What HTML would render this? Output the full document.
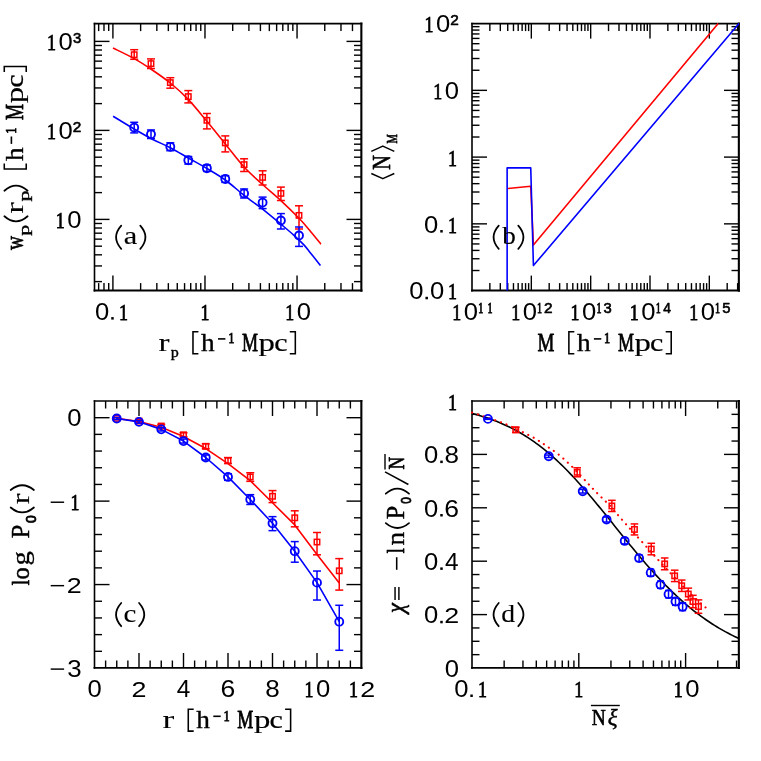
<!DOCTYPE html>
<html><head><meta charset="utf-8"><title>Figure</title>
<style>
html,body{margin:0;padding:0;background:#fff;}
body{width:761px;height:761px;overflow:hidden;font-family:"Liberation Sans",sans-serif;}
svg{display:block;will-change:transform;}
</style></head>
<body>
<svg width="761" height="761" viewBox="0 0 761 761">
<rect x="0" y="0" width="761" height="761" fill="#fff"/>
<line x1="98.65" y1="290.60" x2="98.65" y2="283.10" stroke="#000" stroke-width="1.4" stroke-linecap="butt"/>
<line x1="98.65" y1="23.60" x2="98.65" y2="31.10" stroke="#000" stroke-width="1.4" stroke-linecap="butt"/>
<line x1="103.99" y1="290.60" x2="103.99" y2="283.10" stroke="#000" stroke-width="1.4" stroke-linecap="butt"/>
<line x1="103.99" y1="23.60" x2="103.99" y2="31.10" stroke="#000" stroke-width="1.4" stroke-linecap="butt"/>
<line x1="108.70" y1="290.60" x2="108.70" y2="283.10" stroke="#000" stroke-width="1.4" stroke-linecap="butt"/>
<line x1="108.70" y1="23.60" x2="108.70" y2="31.10" stroke="#000" stroke-width="1.4" stroke-linecap="butt"/>
<line x1="112.91" y1="290.60" x2="112.91" y2="275.60" stroke="#000" stroke-width="1.4" stroke-linecap="butt"/>
<line x1="112.91" y1="23.60" x2="112.91" y2="38.60" stroke="#000" stroke-width="1.4" stroke-linecap="butt"/>
<line x1="140.63" y1="290.60" x2="140.63" y2="283.10" stroke="#000" stroke-width="1.4" stroke-linecap="butt"/>
<line x1="140.63" y1="23.60" x2="140.63" y2="31.10" stroke="#000" stroke-width="1.4" stroke-linecap="butt"/>
<line x1="156.84" y1="290.60" x2="156.84" y2="283.10" stroke="#000" stroke-width="1.4" stroke-linecap="butt"/>
<line x1="156.84" y1="23.60" x2="156.84" y2="31.10" stroke="#000" stroke-width="1.4" stroke-linecap="butt"/>
<line x1="168.34" y1="290.60" x2="168.34" y2="283.10" stroke="#000" stroke-width="1.4" stroke-linecap="butt"/>
<line x1="168.34" y1="23.60" x2="168.34" y2="31.10" stroke="#000" stroke-width="1.4" stroke-linecap="butt"/>
<line x1="177.27" y1="290.60" x2="177.27" y2="283.10" stroke="#000" stroke-width="1.4" stroke-linecap="butt"/>
<line x1="177.27" y1="23.60" x2="177.27" y2="31.10" stroke="#000" stroke-width="1.4" stroke-linecap="butt"/>
<line x1="184.56" y1="290.60" x2="184.56" y2="283.10" stroke="#000" stroke-width="1.4" stroke-linecap="butt"/>
<line x1="184.56" y1="23.60" x2="184.56" y2="31.10" stroke="#000" stroke-width="1.4" stroke-linecap="butt"/>
<line x1="190.72" y1="290.60" x2="190.72" y2="283.10" stroke="#000" stroke-width="1.4" stroke-linecap="butt"/>
<line x1="190.72" y1="23.60" x2="190.72" y2="31.10" stroke="#000" stroke-width="1.4" stroke-linecap="butt"/>
<line x1="196.06" y1="290.60" x2="196.06" y2="283.10" stroke="#000" stroke-width="1.4" stroke-linecap="butt"/>
<line x1="196.06" y1="23.60" x2="196.06" y2="31.10" stroke="#000" stroke-width="1.4" stroke-linecap="butt"/>
<line x1="200.77" y1="290.60" x2="200.77" y2="283.10" stroke="#000" stroke-width="1.4" stroke-linecap="butt"/>
<line x1="200.77" y1="23.60" x2="200.77" y2="31.10" stroke="#000" stroke-width="1.4" stroke-linecap="butt"/>
<line x1="204.98" y1="290.60" x2="204.98" y2="275.60" stroke="#000" stroke-width="1.4" stroke-linecap="butt"/>
<line x1="204.98" y1="23.60" x2="204.98" y2="38.60" stroke="#000" stroke-width="1.4" stroke-linecap="butt"/>
<line x1="232.70" y1="290.60" x2="232.70" y2="283.10" stroke="#000" stroke-width="1.4" stroke-linecap="butt"/>
<line x1="232.70" y1="23.60" x2="232.70" y2="31.10" stroke="#000" stroke-width="1.4" stroke-linecap="butt"/>
<line x1="248.91" y1="290.60" x2="248.91" y2="283.10" stroke="#000" stroke-width="1.4" stroke-linecap="butt"/>
<line x1="248.91" y1="23.60" x2="248.91" y2="31.10" stroke="#000" stroke-width="1.4" stroke-linecap="butt"/>
<line x1="260.41" y1="290.60" x2="260.41" y2="283.10" stroke="#000" stroke-width="1.4" stroke-linecap="butt"/>
<line x1="260.41" y1="23.60" x2="260.41" y2="31.10" stroke="#000" stroke-width="1.4" stroke-linecap="butt"/>
<line x1="269.34" y1="290.60" x2="269.34" y2="283.10" stroke="#000" stroke-width="1.4" stroke-linecap="butt"/>
<line x1="269.34" y1="23.60" x2="269.34" y2="31.10" stroke="#000" stroke-width="1.4" stroke-linecap="butt"/>
<line x1="276.63" y1="290.60" x2="276.63" y2="283.10" stroke="#000" stroke-width="1.4" stroke-linecap="butt"/>
<line x1="276.63" y1="23.60" x2="276.63" y2="31.10" stroke="#000" stroke-width="1.4" stroke-linecap="butt"/>
<line x1="282.79" y1="290.60" x2="282.79" y2="283.10" stroke="#000" stroke-width="1.4" stroke-linecap="butt"/>
<line x1="282.79" y1="23.60" x2="282.79" y2="31.10" stroke="#000" stroke-width="1.4" stroke-linecap="butt"/>
<line x1="288.13" y1="290.60" x2="288.13" y2="283.10" stroke="#000" stroke-width="1.4" stroke-linecap="butt"/>
<line x1="288.13" y1="23.60" x2="288.13" y2="31.10" stroke="#000" stroke-width="1.4" stroke-linecap="butt"/>
<line x1="292.84" y1="290.60" x2="292.84" y2="283.10" stroke="#000" stroke-width="1.4" stroke-linecap="butt"/>
<line x1="292.84" y1="23.60" x2="292.84" y2="31.10" stroke="#000" stroke-width="1.4" stroke-linecap="butt"/>
<line x1="297.05" y1="290.60" x2="297.05" y2="275.60" stroke="#000" stroke-width="1.4" stroke-linecap="butt"/>
<line x1="297.05" y1="23.60" x2="297.05" y2="38.60" stroke="#000" stroke-width="1.4" stroke-linecap="butt"/>
<line x1="324.77" y1="290.60" x2="324.77" y2="283.10" stroke="#000" stroke-width="1.4" stroke-linecap="butt"/>
<line x1="324.77" y1="23.60" x2="324.77" y2="31.10" stroke="#000" stroke-width="1.4" stroke-linecap="butt"/>
<line x1="340.98" y1="290.60" x2="340.98" y2="283.10" stroke="#000" stroke-width="1.4" stroke-linecap="butt"/>
<line x1="340.98" y1="23.60" x2="340.98" y2="31.10" stroke="#000" stroke-width="1.4" stroke-linecap="butt"/>
<line x1="352.48" y1="290.60" x2="352.48" y2="283.10" stroke="#000" stroke-width="1.4" stroke-linecap="butt"/>
<line x1="352.48" y1="23.60" x2="352.48" y2="31.10" stroke="#000" stroke-width="1.4" stroke-linecap="butt"/>
<line x1="94.50" y1="281.61" x2="102.00" y2="281.61" stroke="#000" stroke-width="1.4" stroke-linecap="butt"/>
<line x1="361.50" y1="281.61" x2="354.00" y2="281.61" stroke="#000" stroke-width="1.4" stroke-linecap="butt"/>
<line x1="94.50" y1="265.94" x2="102.00" y2="265.94" stroke="#000" stroke-width="1.4" stroke-linecap="butt"/>
<line x1="361.50" y1="265.94" x2="354.00" y2="265.94" stroke="#000" stroke-width="1.4" stroke-linecap="butt"/>
<line x1="94.50" y1="254.82" x2="102.00" y2="254.82" stroke="#000" stroke-width="1.4" stroke-linecap="butt"/>
<line x1="361.50" y1="254.82" x2="354.00" y2="254.82" stroke="#000" stroke-width="1.4" stroke-linecap="butt"/>
<line x1="94.50" y1="246.19" x2="102.00" y2="246.19" stroke="#000" stroke-width="1.4" stroke-linecap="butt"/>
<line x1="361.50" y1="246.19" x2="354.00" y2="246.19" stroke="#000" stroke-width="1.4" stroke-linecap="butt"/>
<line x1="94.50" y1="239.14" x2="102.00" y2="239.14" stroke="#000" stroke-width="1.4" stroke-linecap="butt"/>
<line x1="361.50" y1="239.14" x2="354.00" y2="239.14" stroke="#000" stroke-width="1.4" stroke-linecap="butt"/>
<line x1="94.50" y1="233.19" x2="102.00" y2="233.19" stroke="#000" stroke-width="1.4" stroke-linecap="butt"/>
<line x1="361.50" y1="233.19" x2="354.00" y2="233.19" stroke="#000" stroke-width="1.4" stroke-linecap="butt"/>
<line x1="94.50" y1="228.02" x2="102.00" y2="228.02" stroke="#000" stroke-width="1.4" stroke-linecap="butt"/>
<line x1="361.50" y1="228.02" x2="354.00" y2="228.02" stroke="#000" stroke-width="1.4" stroke-linecap="butt"/>
<line x1="94.50" y1="223.47" x2="102.00" y2="223.47" stroke="#000" stroke-width="1.4" stroke-linecap="butt"/>
<line x1="361.50" y1="223.47" x2="354.00" y2="223.47" stroke="#000" stroke-width="1.4" stroke-linecap="butt"/>
<line x1="94.50" y1="219.40" x2="109.50" y2="219.40" stroke="#000" stroke-width="1.4" stroke-linecap="butt"/>
<line x1="361.50" y1="219.40" x2="346.50" y2="219.40" stroke="#000" stroke-width="1.4" stroke-linecap="butt"/>
<line x1="94.50" y1="192.61" x2="102.00" y2="192.61" stroke="#000" stroke-width="1.4" stroke-linecap="butt"/>
<line x1="361.50" y1="192.61" x2="354.00" y2="192.61" stroke="#000" stroke-width="1.4" stroke-linecap="butt"/>
<line x1="94.50" y1="176.94" x2="102.00" y2="176.94" stroke="#000" stroke-width="1.4" stroke-linecap="butt"/>
<line x1="361.50" y1="176.94" x2="354.00" y2="176.94" stroke="#000" stroke-width="1.4" stroke-linecap="butt"/>
<line x1="94.50" y1="165.82" x2="102.00" y2="165.82" stroke="#000" stroke-width="1.4" stroke-linecap="butt"/>
<line x1="361.50" y1="165.82" x2="354.00" y2="165.82" stroke="#000" stroke-width="1.4" stroke-linecap="butt"/>
<line x1="94.50" y1="157.19" x2="102.00" y2="157.19" stroke="#000" stroke-width="1.4" stroke-linecap="butt"/>
<line x1="361.50" y1="157.19" x2="354.00" y2="157.19" stroke="#000" stroke-width="1.4" stroke-linecap="butt"/>
<line x1="94.50" y1="150.14" x2="102.00" y2="150.14" stroke="#000" stroke-width="1.4" stroke-linecap="butt"/>
<line x1="361.50" y1="150.14" x2="354.00" y2="150.14" stroke="#000" stroke-width="1.4" stroke-linecap="butt"/>
<line x1="94.50" y1="144.19" x2="102.00" y2="144.19" stroke="#000" stroke-width="1.4" stroke-linecap="butt"/>
<line x1="361.50" y1="144.19" x2="354.00" y2="144.19" stroke="#000" stroke-width="1.4" stroke-linecap="butt"/>
<line x1="94.50" y1="139.02" x2="102.00" y2="139.02" stroke="#000" stroke-width="1.4" stroke-linecap="butt"/>
<line x1="361.50" y1="139.02" x2="354.00" y2="139.02" stroke="#000" stroke-width="1.4" stroke-linecap="butt"/>
<line x1="94.50" y1="134.47" x2="102.00" y2="134.47" stroke="#000" stroke-width="1.4" stroke-linecap="butt"/>
<line x1="361.50" y1="134.47" x2="354.00" y2="134.47" stroke="#000" stroke-width="1.4" stroke-linecap="butt"/>
<line x1="94.50" y1="130.40" x2="109.50" y2="130.40" stroke="#000" stroke-width="1.4" stroke-linecap="butt"/>
<line x1="361.50" y1="130.40" x2="346.50" y2="130.40" stroke="#000" stroke-width="1.4" stroke-linecap="butt"/>
<line x1="94.50" y1="103.61" x2="102.00" y2="103.61" stroke="#000" stroke-width="1.4" stroke-linecap="butt"/>
<line x1="361.50" y1="103.61" x2="354.00" y2="103.61" stroke="#000" stroke-width="1.4" stroke-linecap="butt"/>
<line x1="94.50" y1="87.94" x2="102.00" y2="87.94" stroke="#000" stroke-width="1.4" stroke-linecap="butt"/>
<line x1="361.50" y1="87.94" x2="354.00" y2="87.94" stroke="#000" stroke-width="1.4" stroke-linecap="butt"/>
<line x1="94.50" y1="76.82" x2="102.00" y2="76.82" stroke="#000" stroke-width="1.4" stroke-linecap="butt"/>
<line x1="361.50" y1="76.82" x2="354.00" y2="76.82" stroke="#000" stroke-width="1.4" stroke-linecap="butt"/>
<line x1="94.50" y1="68.19" x2="102.00" y2="68.19" stroke="#000" stroke-width="1.4" stroke-linecap="butt"/>
<line x1="361.50" y1="68.19" x2="354.00" y2="68.19" stroke="#000" stroke-width="1.4" stroke-linecap="butt"/>
<line x1="94.50" y1="61.14" x2="102.00" y2="61.14" stroke="#000" stroke-width="1.4" stroke-linecap="butt"/>
<line x1="361.50" y1="61.14" x2="354.00" y2="61.14" stroke="#000" stroke-width="1.4" stroke-linecap="butt"/>
<line x1="94.50" y1="55.19" x2="102.00" y2="55.19" stroke="#000" stroke-width="1.4" stroke-linecap="butt"/>
<line x1="361.50" y1="55.19" x2="354.00" y2="55.19" stroke="#000" stroke-width="1.4" stroke-linecap="butt"/>
<line x1="94.50" y1="50.02" x2="102.00" y2="50.02" stroke="#000" stroke-width="1.4" stroke-linecap="butt"/>
<line x1="361.50" y1="50.02" x2="354.00" y2="50.02" stroke="#000" stroke-width="1.4" stroke-linecap="butt"/>
<line x1="94.50" y1="45.47" x2="102.00" y2="45.47" stroke="#000" stroke-width="1.4" stroke-linecap="butt"/>
<line x1="361.50" y1="45.47" x2="354.00" y2="45.47" stroke="#000" stroke-width="1.4" stroke-linecap="butt"/>
<line x1="94.50" y1="41.40" x2="109.50" y2="41.40" stroke="#000" stroke-width="1.4" stroke-linecap="butt"/>
<line x1="361.50" y1="41.40" x2="346.50" y2="41.40" stroke="#000" stroke-width="1.4" stroke-linecap="butt"/>
<line x1="94.50" y1="23.60" x2="94.50" y2="290.60" stroke="#000" stroke-width="1.6" stroke-linecap="square"/>
<line x1="94.50" y1="23.60" x2="361.50" y2="23.60" stroke="#000" stroke-width="1.6" stroke-linecap="square"/>
<line x1="361.35" y1="23.60" x2="361.35" y2="290.60" stroke="#000" stroke-width="2.1" stroke-linecap="square"/>
<line x1="94.50" y1="290.50" x2="361.50" y2="290.50" stroke="#000" stroke-width="1.85" stroke-linecap="square"/>
<path d="M113.00,48.00 C116.53,49.77 127.92,55.12 134.20,58.60 C140.48,62.08 144.68,64.83 150.70,68.90 C156.72,72.97 164.05,77.92 170.30,83.00 C176.55,88.08 182.10,93.02 188.20,99.40 C194.30,105.78 200.72,113.88 206.90,121.30 C213.08,128.72 219.10,136.28 225.30,143.90 C231.50,151.52 237.88,160.23 244.10,167.00 C250.32,173.77 256.47,178.90 262.60,184.50 C268.73,190.10 274.83,194.97 280.90,200.60 C286.97,206.23 294.25,213.40 299.00,218.30 C303.75,223.20 305.75,225.68 309.40,230.00 C313.05,234.32 318.98,241.83 320.90,244.20" fill="none" stroke="#ff0000" stroke-width="1.6"/>
<path d="M113.10,116.20 C116.62,118.33 127.67,125.17 134.20,129.00 C140.73,132.83 146.28,136.08 152.30,139.20 C158.32,142.32 164.23,144.53 170.30,147.70 C176.37,150.87 182.60,154.73 188.70,158.20 C194.80,161.67 200.80,164.87 206.90,168.50 C213.00,172.13 219.10,175.53 225.30,180.00 C231.50,184.47 237.88,190.45 244.10,195.30 C250.32,200.15 256.47,204.28 262.60,209.10 C268.73,213.92 275.72,219.87 280.90,224.20 C286.08,228.53 289.87,231.65 293.70,235.10 C297.53,238.55 301.28,242.13 303.90,244.90 C306.52,247.67 307.37,249.20 309.40,251.70 C311.43,254.20 314.25,257.58 316.10,259.90 C317.95,262.22 319.77,264.65 320.50,265.60" fill="none" stroke="#0000ff" stroke-width="1.6"/>
<line x1="134.20" y1="49.70" x2="134.20" y2="59.30" stroke="#ff0000" stroke-width="1.5" stroke-linecap="butt"/>
<line x1="130.20" y1="49.70" x2="138.20" y2="49.70" stroke="#ff0000" stroke-width="1.5" stroke-linecap="butt"/>
<line x1="130.20" y1="59.30" x2="138.20" y2="59.30" stroke="#ff0000" stroke-width="1.5" stroke-linecap="butt"/>
<rect x="131.50" y="52.00" width="5.4" height="5.4" fill="none" stroke="#ff0000" stroke-width="1.5"/>
<line x1="134.20" y1="122.30" x2="134.20" y2="132.90" stroke="#0000ff" stroke-width="1.5" stroke-linecap="butt"/>
<line x1="130.20" y1="122.30" x2="138.20" y2="122.30" stroke="#0000ff" stroke-width="1.5" stroke-linecap="butt"/>
<line x1="130.20" y1="132.90" x2="138.20" y2="132.90" stroke="#0000ff" stroke-width="1.5" stroke-linecap="butt"/>
<circle cx="134.20" cy="127.60" r="4.0" fill="none" stroke="#0000ff" stroke-width="1.85"/>
<line x1="151.00" y1="58.90" x2="151.00" y2="68.50" stroke="#ff0000" stroke-width="1.5" stroke-linecap="butt"/>
<line x1="147.00" y1="58.90" x2="155.00" y2="58.90" stroke="#ff0000" stroke-width="1.5" stroke-linecap="butt"/>
<line x1="147.00" y1="68.50" x2="155.00" y2="68.50" stroke="#ff0000" stroke-width="1.5" stroke-linecap="butt"/>
<rect x="148.30" y="60.90" width="5.4" height="5.4" fill="none" stroke="#ff0000" stroke-width="1.5"/>
<line x1="151.00" y1="130.00" x2="151.00" y2="138.50" stroke="#0000ff" stroke-width="1.5" stroke-linecap="butt"/>
<line x1="147.00" y1="130.00" x2="155.00" y2="130.00" stroke="#0000ff" stroke-width="1.5" stroke-linecap="butt"/>
<line x1="147.00" y1="138.50" x2="155.00" y2="138.50" stroke="#0000ff" stroke-width="1.5" stroke-linecap="butt"/>
<circle cx="151.00" cy="134.30" r="4.0" fill="none" stroke="#0000ff" stroke-width="1.85"/>
<line x1="170.30" y1="77.70" x2="170.30" y2="88.20" stroke="#ff0000" stroke-width="1.5" stroke-linecap="butt"/>
<line x1="166.30" y1="77.70" x2="174.30" y2="77.70" stroke="#ff0000" stroke-width="1.5" stroke-linecap="butt"/>
<line x1="166.30" y1="88.20" x2="174.30" y2="88.20" stroke="#ff0000" stroke-width="1.5" stroke-linecap="butt"/>
<rect x="167.60" y="79.90" width="5.4" height="5.4" fill="none" stroke="#ff0000" stroke-width="1.5"/>
<line x1="170.30" y1="142.80" x2="170.30" y2="150.70" stroke="#0000ff" stroke-width="1.5" stroke-linecap="butt"/>
<line x1="166.30" y1="142.80" x2="174.30" y2="142.80" stroke="#0000ff" stroke-width="1.5" stroke-linecap="butt"/>
<line x1="166.30" y1="150.70" x2="174.30" y2="150.70" stroke="#0000ff" stroke-width="1.5" stroke-linecap="butt"/>
<circle cx="170.30" cy="146.80" r="4.0" fill="none" stroke="#0000ff" stroke-width="1.85"/>
<line x1="188.30" y1="90.60" x2="188.30" y2="102.90" stroke="#ff0000" stroke-width="1.5" stroke-linecap="butt"/>
<line x1="184.30" y1="90.60" x2="192.30" y2="90.60" stroke="#ff0000" stroke-width="1.5" stroke-linecap="butt"/>
<line x1="184.30" y1="102.90" x2="192.30" y2="102.90" stroke="#ff0000" stroke-width="1.5" stroke-linecap="butt"/>
<rect x="185.60" y="93.90" width="5.4" height="5.4" fill="none" stroke="#ff0000" stroke-width="1.5"/>
<line x1="188.30" y1="156.50" x2="188.30" y2="164.10" stroke="#0000ff" stroke-width="1.5" stroke-linecap="butt"/>
<line x1="184.30" y1="156.50" x2="192.30" y2="156.50" stroke="#0000ff" stroke-width="1.5" stroke-linecap="butt"/>
<line x1="184.30" y1="164.10" x2="192.30" y2="164.10" stroke="#0000ff" stroke-width="1.5" stroke-linecap="butt"/>
<circle cx="188.30" cy="160.20" r="4.0" fill="none" stroke="#0000ff" stroke-width="1.85"/>
<line x1="206.90" y1="113.50" x2="206.90" y2="128.90" stroke="#ff0000" stroke-width="1.5" stroke-linecap="butt"/>
<line x1="202.90" y1="113.50" x2="210.90" y2="113.50" stroke="#ff0000" stroke-width="1.5" stroke-linecap="butt"/>
<line x1="202.90" y1="128.90" x2="210.90" y2="128.90" stroke="#ff0000" stroke-width="1.5" stroke-linecap="butt"/>
<rect x="204.20" y="117.60" width="5.4" height="5.4" fill="none" stroke="#ff0000" stroke-width="1.5"/>
<line x1="206.90" y1="165.00" x2="206.90" y2="171.40" stroke="#0000ff" stroke-width="1.5" stroke-linecap="butt"/>
<line x1="202.90" y1="165.00" x2="210.90" y2="165.00" stroke="#0000ff" stroke-width="1.5" stroke-linecap="butt"/>
<line x1="202.90" y1="171.40" x2="210.90" y2="171.40" stroke="#0000ff" stroke-width="1.5" stroke-linecap="butt"/>
<circle cx="206.90" cy="168.20" r="4.0" fill="none" stroke="#0000ff" stroke-width="1.85"/>
<line x1="225.30" y1="135.90" x2="225.30" y2="151.90" stroke="#ff0000" stroke-width="1.5" stroke-linecap="butt"/>
<line x1="221.30" y1="135.90" x2="229.30" y2="135.90" stroke="#ff0000" stroke-width="1.5" stroke-linecap="butt"/>
<line x1="221.30" y1="151.90" x2="229.30" y2="151.90" stroke="#ff0000" stroke-width="1.5" stroke-linecap="butt"/>
<rect x="222.60" y="140.20" width="5.4" height="5.4" fill="none" stroke="#ff0000" stroke-width="1.5"/>
<line x1="225.30" y1="175.60" x2="225.30" y2="182.40" stroke="#0000ff" stroke-width="1.5" stroke-linecap="butt"/>
<line x1="221.30" y1="175.60" x2="229.30" y2="175.60" stroke="#0000ff" stroke-width="1.5" stroke-linecap="butt"/>
<line x1="221.30" y1="182.40" x2="229.30" y2="182.40" stroke="#0000ff" stroke-width="1.5" stroke-linecap="butt"/>
<circle cx="225.30" cy="179.00" r="4.0" fill="none" stroke="#0000ff" stroke-width="1.85"/>
<line x1="244.10" y1="158.80" x2="244.10" y2="171.50" stroke="#ff0000" stroke-width="1.5" stroke-linecap="butt"/>
<line x1="240.10" y1="158.80" x2="248.10" y2="158.80" stroke="#ff0000" stroke-width="1.5" stroke-linecap="butt"/>
<line x1="240.10" y1="171.50" x2="248.10" y2="171.50" stroke="#ff0000" stroke-width="1.5" stroke-linecap="butt"/>
<rect x="241.40" y="161.90" width="5.4" height="5.4" fill="none" stroke="#ff0000" stroke-width="1.5"/>
<line x1="244.10" y1="189.00" x2="244.10" y2="198.00" stroke="#0000ff" stroke-width="1.5" stroke-linecap="butt"/>
<line x1="240.10" y1="189.00" x2="248.10" y2="189.00" stroke="#0000ff" stroke-width="1.5" stroke-linecap="butt"/>
<line x1="240.10" y1="198.00" x2="248.10" y2="198.00" stroke="#0000ff" stroke-width="1.5" stroke-linecap="butt"/>
<circle cx="244.10" cy="193.40" r="4.0" fill="none" stroke="#0000ff" stroke-width="1.85"/>
<line x1="262.60" y1="170.80" x2="262.60" y2="185.00" stroke="#ff0000" stroke-width="1.5" stroke-linecap="butt"/>
<line x1="258.60" y1="170.80" x2="266.60" y2="170.80" stroke="#ff0000" stroke-width="1.5" stroke-linecap="butt"/>
<line x1="258.60" y1="185.00" x2="266.60" y2="185.00" stroke="#ff0000" stroke-width="1.5" stroke-linecap="butt"/>
<rect x="259.90" y="174.70" width="5.4" height="5.4" fill="none" stroke="#ff0000" stroke-width="1.5"/>
<line x1="262.60" y1="197.10" x2="262.60" y2="208.60" stroke="#0000ff" stroke-width="1.5" stroke-linecap="butt"/>
<line x1="258.60" y1="197.10" x2="266.60" y2="197.10" stroke="#0000ff" stroke-width="1.5" stroke-linecap="butt"/>
<line x1="258.60" y1="208.60" x2="266.60" y2="208.60" stroke="#0000ff" stroke-width="1.5" stroke-linecap="butt"/>
<circle cx="262.60" cy="202.60" r="4.0" fill="none" stroke="#0000ff" stroke-width="1.85"/>
<line x1="280.90" y1="187.10" x2="280.90" y2="200.50" stroke="#ff0000" stroke-width="1.5" stroke-linecap="butt"/>
<line x1="276.90" y1="187.10" x2="284.90" y2="187.10" stroke="#ff0000" stroke-width="1.5" stroke-linecap="butt"/>
<line x1="276.90" y1="200.50" x2="284.90" y2="200.50" stroke="#ff0000" stroke-width="1.5" stroke-linecap="butt"/>
<rect x="278.20" y="190.70" width="5.4" height="5.4" fill="none" stroke="#ff0000" stroke-width="1.5"/>
<line x1="280.90" y1="213.60" x2="280.90" y2="229.00" stroke="#0000ff" stroke-width="1.5" stroke-linecap="butt"/>
<line x1="276.90" y1="213.60" x2="284.90" y2="213.60" stroke="#0000ff" stroke-width="1.5" stroke-linecap="butt"/>
<line x1="276.90" y1="229.00" x2="284.90" y2="229.00" stroke="#0000ff" stroke-width="1.5" stroke-linecap="butt"/>
<circle cx="280.90" cy="220.50" r="4.0" fill="none" stroke="#0000ff" stroke-width="1.85"/>
<line x1="299.00" y1="205.80" x2="299.00" y2="229.00" stroke="#ff0000" stroke-width="1.5" stroke-linecap="butt"/>
<line x1="295.00" y1="205.80" x2="303.00" y2="205.80" stroke="#ff0000" stroke-width="1.5" stroke-linecap="butt"/>
<line x1="295.00" y1="229.00" x2="303.00" y2="229.00" stroke="#ff0000" stroke-width="1.5" stroke-linecap="butt"/>
<rect x="296.30" y="212.70" width="5.4" height="5.4" fill="none" stroke="#ff0000" stroke-width="1.5"/>
<line x1="299.00" y1="227.00" x2="299.00" y2="246.40" stroke="#0000ff" stroke-width="1.5" stroke-linecap="butt"/>
<line x1="295.00" y1="227.00" x2="303.00" y2="227.00" stroke="#0000ff" stroke-width="1.5" stroke-linecap="butt"/>
<line x1="295.00" y1="246.40" x2="303.00" y2="246.40" stroke="#0000ff" stroke-width="1.5" stroke-linecap="butt"/>
<circle cx="299.00" cy="235.50" r="4.0" fill="none" stroke="#0000ff" stroke-width="1.85"/>
<line x1="489.86" y1="290.60" x2="489.86" y2="283.10" stroke="#000" stroke-width="1.4" stroke-linecap="butt"/>
<line x1="489.86" y1="23.60" x2="489.86" y2="31.10" stroke="#000" stroke-width="1.4" stroke-linecap="butt"/>
<line x1="500.31" y1="290.60" x2="500.31" y2="283.10" stroke="#000" stroke-width="1.4" stroke-linecap="butt"/>
<line x1="500.31" y1="23.60" x2="500.31" y2="31.10" stroke="#000" stroke-width="1.4" stroke-linecap="butt"/>
<line x1="507.72" y1="290.60" x2="507.72" y2="283.10" stroke="#000" stroke-width="1.4" stroke-linecap="butt"/>
<line x1="507.72" y1="23.60" x2="507.72" y2="31.10" stroke="#000" stroke-width="1.4" stroke-linecap="butt"/>
<line x1="513.47" y1="290.60" x2="513.47" y2="283.10" stroke="#000" stroke-width="1.4" stroke-linecap="butt"/>
<line x1="513.47" y1="23.60" x2="513.47" y2="31.10" stroke="#000" stroke-width="1.4" stroke-linecap="butt"/>
<line x1="518.17" y1="290.60" x2="518.17" y2="283.10" stroke="#000" stroke-width="1.4" stroke-linecap="butt"/>
<line x1="518.17" y1="23.60" x2="518.17" y2="31.10" stroke="#000" stroke-width="1.4" stroke-linecap="butt"/>
<line x1="522.14" y1="290.60" x2="522.14" y2="283.10" stroke="#000" stroke-width="1.4" stroke-linecap="butt"/>
<line x1="522.14" y1="23.60" x2="522.14" y2="31.10" stroke="#000" stroke-width="1.4" stroke-linecap="butt"/>
<line x1="525.58" y1="290.60" x2="525.58" y2="283.10" stroke="#000" stroke-width="1.4" stroke-linecap="butt"/>
<line x1="525.58" y1="23.60" x2="525.58" y2="31.10" stroke="#000" stroke-width="1.4" stroke-linecap="butt"/>
<line x1="528.62" y1="290.60" x2="528.62" y2="283.10" stroke="#000" stroke-width="1.4" stroke-linecap="butt"/>
<line x1="528.62" y1="23.60" x2="528.62" y2="31.10" stroke="#000" stroke-width="1.4" stroke-linecap="butt"/>
<line x1="531.33" y1="290.60" x2="531.33" y2="275.60" stroke="#000" stroke-width="1.4" stroke-linecap="butt"/>
<line x1="531.33" y1="23.60" x2="531.33" y2="38.60" stroke="#000" stroke-width="1.4" stroke-linecap="butt"/>
<line x1="549.19" y1="290.60" x2="549.19" y2="283.10" stroke="#000" stroke-width="1.4" stroke-linecap="butt"/>
<line x1="549.19" y1="23.60" x2="549.19" y2="31.10" stroke="#000" stroke-width="1.4" stroke-linecap="butt"/>
<line x1="559.64" y1="290.60" x2="559.64" y2="283.10" stroke="#000" stroke-width="1.4" stroke-linecap="butt"/>
<line x1="559.64" y1="23.60" x2="559.64" y2="31.10" stroke="#000" stroke-width="1.4" stroke-linecap="butt"/>
<line x1="567.06" y1="290.60" x2="567.06" y2="283.10" stroke="#000" stroke-width="1.4" stroke-linecap="butt"/>
<line x1="567.06" y1="23.60" x2="567.06" y2="31.10" stroke="#000" stroke-width="1.4" stroke-linecap="butt"/>
<line x1="572.81" y1="290.60" x2="572.81" y2="283.10" stroke="#000" stroke-width="1.4" stroke-linecap="butt"/>
<line x1="572.81" y1="23.60" x2="572.81" y2="31.10" stroke="#000" stroke-width="1.4" stroke-linecap="butt"/>
<line x1="577.50" y1="290.60" x2="577.50" y2="283.10" stroke="#000" stroke-width="1.4" stroke-linecap="butt"/>
<line x1="577.50" y1="23.60" x2="577.50" y2="31.10" stroke="#000" stroke-width="1.4" stroke-linecap="butt"/>
<line x1="581.48" y1="290.60" x2="581.48" y2="283.10" stroke="#000" stroke-width="1.4" stroke-linecap="butt"/>
<line x1="581.48" y1="23.60" x2="581.48" y2="31.10" stroke="#000" stroke-width="1.4" stroke-linecap="butt"/>
<line x1="584.92" y1="290.60" x2="584.92" y2="283.10" stroke="#000" stroke-width="1.4" stroke-linecap="butt"/>
<line x1="584.92" y1="23.60" x2="584.92" y2="31.10" stroke="#000" stroke-width="1.4" stroke-linecap="butt"/>
<line x1="587.95" y1="290.60" x2="587.95" y2="283.10" stroke="#000" stroke-width="1.4" stroke-linecap="butt"/>
<line x1="587.95" y1="23.60" x2="587.95" y2="31.10" stroke="#000" stroke-width="1.4" stroke-linecap="butt"/>
<line x1="590.67" y1="290.60" x2="590.67" y2="275.60" stroke="#000" stroke-width="1.4" stroke-linecap="butt"/>
<line x1="590.67" y1="23.60" x2="590.67" y2="38.60" stroke="#000" stroke-width="1.4" stroke-linecap="butt"/>
<line x1="608.53" y1="290.60" x2="608.53" y2="283.10" stroke="#000" stroke-width="1.4" stroke-linecap="butt"/>
<line x1="608.53" y1="23.60" x2="608.53" y2="31.10" stroke="#000" stroke-width="1.4" stroke-linecap="butt"/>
<line x1="618.98" y1="290.60" x2="618.98" y2="283.10" stroke="#000" stroke-width="1.4" stroke-linecap="butt"/>
<line x1="618.98" y1="23.60" x2="618.98" y2="31.10" stroke="#000" stroke-width="1.4" stroke-linecap="butt"/>
<line x1="626.39" y1="290.60" x2="626.39" y2="283.10" stroke="#000" stroke-width="1.4" stroke-linecap="butt"/>
<line x1="626.39" y1="23.60" x2="626.39" y2="31.10" stroke="#000" stroke-width="1.4" stroke-linecap="butt"/>
<line x1="632.14" y1="290.60" x2="632.14" y2="283.10" stroke="#000" stroke-width="1.4" stroke-linecap="butt"/>
<line x1="632.14" y1="23.60" x2="632.14" y2="31.10" stroke="#000" stroke-width="1.4" stroke-linecap="butt"/>
<line x1="636.84" y1="290.60" x2="636.84" y2="283.10" stroke="#000" stroke-width="1.4" stroke-linecap="butt"/>
<line x1="636.84" y1="23.60" x2="636.84" y2="31.10" stroke="#000" stroke-width="1.4" stroke-linecap="butt"/>
<line x1="640.81" y1="290.60" x2="640.81" y2="283.10" stroke="#000" stroke-width="1.4" stroke-linecap="butt"/>
<line x1="640.81" y1="23.60" x2="640.81" y2="31.10" stroke="#000" stroke-width="1.4" stroke-linecap="butt"/>
<line x1="644.25" y1="290.60" x2="644.25" y2="283.10" stroke="#000" stroke-width="1.4" stroke-linecap="butt"/>
<line x1="644.25" y1="23.60" x2="644.25" y2="31.10" stroke="#000" stroke-width="1.4" stroke-linecap="butt"/>
<line x1="647.29" y1="290.60" x2="647.29" y2="283.10" stroke="#000" stroke-width="1.4" stroke-linecap="butt"/>
<line x1="647.29" y1="23.60" x2="647.29" y2="31.10" stroke="#000" stroke-width="1.4" stroke-linecap="butt"/>
<line x1="650.00" y1="290.60" x2="650.00" y2="275.60" stroke="#000" stroke-width="1.4" stroke-linecap="butt"/>
<line x1="650.00" y1="23.60" x2="650.00" y2="38.60" stroke="#000" stroke-width="1.4" stroke-linecap="butt"/>
<line x1="667.86" y1="290.60" x2="667.86" y2="283.10" stroke="#000" stroke-width="1.4" stroke-linecap="butt"/>
<line x1="667.86" y1="23.60" x2="667.86" y2="31.10" stroke="#000" stroke-width="1.4" stroke-linecap="butt"/>
<line x1="678.31" y1="290.60" x2="678.31" y2="283.10" stroke="#000" stroke-width="1.4" stroke-linecap="butt"/>
<line x1="678.31" y1="23.60" x2="678.31" y2="31.10" stroke="#000" stroke-width="1.4" stroke-linecap="butt"/>
<line x1="685.72" y1="290.60" x2="685.72" y2="283.10" stroke="#000" stroke-width="1.4" stroke-linecap="butt"/>
<line x1="685.72" y1="23.60" x2="685.72" y2="31.10" stroke="#000" stroke-width="1.4" stroke-linecap="butt"/>
<line x1="691.47" y1="290.60" x2="691.47" y2="283.10" stroke="#000" stroke-width="1.4" stroke-linecap="butt"/>
<line x1="691.47" y1="23.60" x2="691.47" y2="31.10" stroke="#000" stroke-width="1.4" stroke-linecap="butt"/>
<line x1="696.17" y1="290.60" x2="696.17" y2="283.10" stroke="#000" stroke-width="1.4" stroke-linecap="butt"/>
<line x1="696.17" y1="23.60" x2="696.17" y2="31.10" stroke="#000" stroke-width="1.4" stroke-linecap="butt"/>
<line x1="700.14" y1="290.60" x2="700.14" y2="283.10" stroke="#000" stroke-width="1.4" stroke-linecap="butt"/>
<line x1="700.14" y1="23.60" x2="700.14" y2="31.10" stroke="#000" stroke-width="1.4" stroke-linecap="butt"/>
<line x1="703.58" y1="290.60" x2="703.58" y2="283.10" stroke="#000" stroke-width="1.4" stroke-linecap="butt"/>
<line x1="703.58" y1="23.60" x2="703.58" y2="31.10" stroke="#000" stroke-width="1.4" stroke-linecap="butt"/>
<line x1="706.62" y1="290.60" x2="706.62" y2="283.10" stroke="#000" stroke-width="1.4" stroke-linecap="butt"/>
<line x1="706.62" y1="23.60" x2="706.62" y2="31.10" stroke="#000" stroke-width="1.4" stroke-linecap="butt"/>
<line x1="709.33" y1="290.60" x2="709.33" y2="275.60" stroke="#000" stroke-width="1.4" stroke-linecap="butt"/>
<line x1="709.33" y1="23.60" x2="709.33" y2="38.60" stroke="#000" stroke-width="1.4" stroke-linecap="butt"/>
<line x1="727.19" y1="290.60" x2="727.19" y2="283.10" stroke="#000" stroke-width="1.4" stroke-linecap="butt"/>
<line x1="727.19" y1="23.60" x2="727.19" y2="31.10" stroke="#000" stroke-width="1.4" stroke-linecap="butt"/>
<line x1="737.64" y1="290.60" x2="737.64" y2="283.10" stroke="#000" stroke-width="1.4" stroke-linecap="butt"/>
<line x1="737.64" y1="23.60" x2="737.64" y2="31.10" stroke="#000" stroke-width="1.4" stroke-linecap="butt"/>
<line x1="472.00" y1="270.51" x2="479.50" y2="270.51" stroke="#000" stroke-width="1.4" stroke-linecap="butt"/>
<line x1="739.00" y1="270.51" x2="731.50" y2="270.51" stroke="#000" stroke-width="1.4" stroke-linecap="butt"/>
<line x1="472.00" y1="258.75" x2="479.50" y2="258.75" stroke="#000" stroke-width="1.4" stroke-linecap="butt"/>
<line x1="739.00" y1="258.75" x2="731.50" y2="258.75" stroke="#000" stroke-width="1.4" stroke-linecap="butt"/>
<line x1="472.00" y1="250.41" x2="479.50" y2="250.41" stroke="#000" stroke-width="1.4" stroke-linecap="butt"/>
<line x1="739.00" y1="250.41" x2="731.50" y2="250.41" stroke="#000" stroke-width="1.4" stroke-linecap="butt"/>
<line x1="472.00" y1="243.94" x2="479.50" y2="243.94" stroke="#000" stroke-width="1.4" stroke-linecap="butt"/>
<line x1="739.00" y1="243.94" x2="731.50" y2="243.94" stroke="#000" stroke-width="1.4" stroke-linecap="butt"/>
<line x1="472.00" y1="238.66" x2="479.50" y2="238.66" stroke="#000" stroke-width="1.4" stroke-linecap="butt"/>
<line x1="739.00" y1="238.66" x2="731.50" y2="238.66" stroke="#000" stroke-width="1.4" stroke-linecap="butt"/>
<line x1="472.00" y1="234.19" x2="479.50" y2="234.19" stroke="#000" stroke-width="1.4" stroke-linecap="butt"/>
<line x1="739.00" y1="234.19" x2="731.50" y2="234.19" stroke="#000" stroke-width="1.4" stroke-linecap="butt"/>
<line x1="472.00" y1="230.32" x2="479.50" y2="230.32" stroke="#000" stroke-width="1.4" stroke-linecap="butt"/>
<line x1="739.00" y1="230.32" x2="731.50" y2="230.32" stroke="#000" stroke-width="1.4" stroke-linecap="butt"/>
<line x1="472.00" y1="226.90" x2="479.50" y2="226.90" stroke="#000" stroke-width="1.4" stroke-linecap="butt"/>
<line x1="739.00" y1="226.90" x2="731.50" y2="226.90" stroke="#000" stroke-width="1.4" stroke-linecap="butt"/>
<line x1="472.00" y1="223.85" x2="487.00" y2="223.85" stroke="#000" stroke-width="1.4" stroke-linecap="butt"/>
<line x1="739.00" y1="223.85" x2="724.00" y2="223.85" stroke="#000" stroke-width="1.4" stroke-linecap="butt"/>
<line x1="472.00" y1="203.76" x2="479.50" y2="203.76" stroke="#000" stroke-width="1.4" stroke-linecap="butt"/>
<line x1="739.00" y1="203.76" x2="731.50" y2="203.76" stroke="#000" stroke-width="1.4" stroke-linecap="butt"/>
<line x1="472.00" y1="192.00" x2="479.50" y2="192.00" stroke="#000" stroke-width="1.4" stroke-linecap="butt"/>
<line x1="739.00" y1="192.00" x2="731.50" y2="192.00" stroke="#000" stroke-width="1.4" stroke-linecap="butt"/>
<line x1="472.00" y1="183.66" x2="479.50" y2="183.66" stroke="#000" stroke-width="1.4" stroke-linecap="butt"/>
<line x1="739.00" y1="183.66" x2="731.50" y2="183.66" stroke="#000" stroke-width="1.4" stroke-linecap="butt"/>
<line x1="472.00" y1="177.19" x2="479.50" y2="177.19" stroke="#000" stroke-width="1.4" stroke-linecap="butt"/>
<line x1="739.00" y1="177.19" x2="731.50" y2="177.19" stroke="#000" stroke-width="1.4" stroke-linecap="butt"/>
<line x1="472.00" y1="171.91" x2="479.50" y2="171.91" stroke="#000" stroke-width="1.4" stroke-linecap="butt"/>
<line x1="739.00" y1="171.91" x2="731.50" y2="171.91" stroke="#000" stroke-width="1.4" stroke-linecap="butt"/>
<line x1="472.00" y1="167.44" x2="479.50" y2="167.44" stroke="#000" stroke-width="1.4" stroke-linecap="butt"/>
<line x1="739.00" y1="167.44" x2="731.50" y2="167.44" stroke="#000" stroke-width="1.4" stroke-linecap="butt"/>
<line x1="472.00" y1="163.57" x2="479.50" y2="163.57" stroke="#000" stroke-width="1.4" stroke-linecap="butt"/>
<line x1="739.00" y1="163.57" x2="731.50" y2="163.57" stroke="#000" stroke-width="1.4" stroke-linecap="butt"/>
<line x1="472.00" y1="160.15" x2="479.50" y2="160.15" stroke="#000" stroke-width="1.4" stroke-linecap="butt"/>
<line x1="739.00" y1="160.15" x2="731.50" y2="160.15" stroke="#000" stroke-width="1.4" stroke-linecap="butt"/>
<line x1="472.00" y1="157.10" x2="487.00" y2="157.10" stroke="#000" stroke-width="1.4" stroke-linecap="butt"/>
<line x1="739.00" y1="157.10" x2="724.00" y2="157.10" stroke="#000" stroke-width="1.4" stroke-linecap="butt"/>
<line x1="472.00" y1="137.01" x2="479.50" y2="137.01" stroke="#000" stroke-width="1.4" stroke-linecap="butt"/>
<line x1="739.00" y1="137.01" x2="731.50" y2="137.01" stroke="#000" stroke-width="1.4" stroke-linecap="butt"/>
<line x1="472.00" y1="125.25" x2="479.50" y2="125.25" stroke="#000" stroke-width="1.4" stroke-linecap="butt"/>
<line x1="739.00" y1="125.25" x2="731.50" y2="125.25" stroke="#000" stroke-width="1.4" stroke-linecap="butt"/>
<line x1="472.00" y1="116.91" x2="479.50" y2="116.91" stroke="#000" stroke-width="1.4" stroke-linecap="butt"/>
<line x1="739.00" y1="116.91" x2="731.50" y2="116.91" stroke="#000" stroke-width="1.4" stroke-linecap="butt"/>
<line x1="472.00" y1="110.44" x2="479.50" y2="110.44" stroke="#000" stroke-width="1.4" stroke-linecap="butt"/>
<line x1="739.00" y1="110.44" x2="731.50" y2="110.44" stroke="#000" stroke-width="1.4" stroke-linecap="butt"/>
<line x1="472.00" y1="105.16" x2="479.50" y2="105.16" stroke="#000" stroke-width="1.4" stroke-linecap="butt"/>
<line x1="739.00" y1="105.16" x2="731.50" y2="105.16" stroke="#000" stroke-width="1.4" stroke-linecap="butt"/>
<line x1="472.00" y1="100.69" x2="479.50" y2="100.69" stroke="#000" stroke-width="1.4" stroke-linecap="butt"/>
<line x1="739.00" y1="100.69" x2="731.50" y2="100.69" stroke="#000" stroke-width="1.4" stroke-linecap="butt"/>
<line x1="472.00" y1="96.82" x2="479.50" y2="96.82" stroke="#000" stroke-width="1.4" stroke-linecap="butt"/>
<line x1="739.00" y1="96.82" x2="731.50" y2="96.82" stroke="#000" stroke-width="1.4" stroke-linecap="butt"/>
<line x1="472.00" y1="93.40" x2="479.50" y2="93.40" stroke="#000" stroke-width="1.4" stroke-linecap="butt"/>
<line x1="739.00" y1="93.40" x2="731.50" y2="93.40" stroke="#000" stroke-width="1.4" stroke-linecap="butt"/>
<line x1="472.00" y1="90.35" x2="487.00" y2="90.35" stroke="#000" stroke-width="1.4" stroke-linecap="butt"/>
<line x1="739.00" y1="90.35" x2="724.00" y2="90.35" stroke="#000" stroke-width="1.4" stroke-linecap="butt"/>
<line x1="472.00" y1="70.26" x2="479.50" y2="70.26" stroke="#000" stroke-width="1.4" stroke-linecap="butt"/>
<line x1="739.00" y1="70.26" x2="731.50" y2="70.26" stroke="#000" stroke-width="1.4" stroke-linecap="butt"/>
<line x1="472.00" y1="58.50" x2="479.50" y2="58.50" stroke="#000" stroke-width="1.4" stroke-linecap="butt"/>
<line x1="739.00" y1="58.50" x2="731.50" y2="58.50" stroke="#000" stroke-width="1.4" stroke-linecap="butt"/>
<line x1="472.00" y1="50.16" x2="479.50" y2="50.16" stroke="#000" stroke-width="1.4" stroke-linecap="butt"/>
<line x1="739.00" y1="50.16" x2="731.50" y2="50.16" stroke="#000" stroke-width="1.4" stroke-linecap="butt"/>
<line x1="472.00" y1="43.69" x2="479.50" y2="43.69" stroke="#000" stroke-width="1.4" stroke-linecap="butt"/>
<line x1="739.00" y1="43.69" x2="731.50" y2="43.69" stroke="#000" stroke-width="1.4" stroke-linecap="butt"/>
<line x1="472.00" y1="38.41" x2="479.50" y2="38.41" stroke="#000" stroke-width="1.4" stroke-linecap="butt"/>
<line x1="739.00" y1="38.41" x2="731.50" y2="38.41" stroke="#000" stroke-width="1.4" stroke-linecap="butt"/>
<line x1="472.00" y1="33.94" x2="479.50" y2="33.94" stroke="#000" stroke-width="1.4" stroke-linecap="butt"/>
<line x1="739.00" y1="33.94" x2="731.50" y2="33.94" stroke="#000" stroke-width="1.4" stroke-linecap="butt"/>
<line x1="472.00" y1="30.07" x2="479.50" y2="30.07" stroke="#000" stroke-width="1.4" stroke-linecap="butt"/>
<line x1="739.00" y1="30.07" x2="731.50" y2="30.07" stroke="#000" stroke-width="1.4" stroke-linecap="butt"/>
<line x1="472.00" y1="26.65" x2="479.50" y2="26.65" stroke="#000" stroke-width="1.4" stroke-linecap="butt"/>
<line x1="739.00" y1="26.65" x2="731.50" y2="26.65" stroke="#000" stroke-width="1.4" stroke-linecap="butt"/>
<line x1="472.00" y1="23.60" x2="472.00" y2="290.60" stroke="#000" stroke-width="1.6" stroke-linecap="square"/>
<line x1="472.00" y1="23.60" x2="739.00" y2="23.60" stroke="#000" stroke-width="1.6" stroke-linecap="square"/>
<line x1="738.85" y1="23.60" x2="738.85" y2="290.60" stroke="#000" stroke-width="2.1" stroke-linecap="square"/>
<line x1="472.00" y1="290.50" x2="739.00" y2="290.50" stroke="#000" stroke-width="1.85" stroke-linecap="square"/>
<polyline points="507.33,188.50 530.74,186.20 533.41,245.00 718.20,23.60" fill="none" stroke="#ff0000" stroke-width="1.6" stroke-linejoin="round"/>
<polyline points="507.13,290.60 507.13,167.90 530.74,167.70 533.41,265.60 739.00,23.60" fill="none" stroke="#0000ff" stroke-width="1.6" stroke-linejoin="round"/>
<line x1="105.62" y1="668.00" x2="105.62" y2="660.50" stroke="#000" stroke-width="1.4" stroke-linecap="butt"/>
<line x1="105.62" y1="401.00" x2="105.62" y2="408.50" stroke="#000" stroke-width="1.4" stroke-linecap="butt"/>
<line x1="116.75" y1="668.00" x2="116.75" y2="660.50" stroke="#000" stroke-width="1.4" stroke-linecap="butt"/>
<line x1="116.75" y1="401.00" x2="116.75" y2="408.50" stroke="#000" stroke-width="1.4" stroke-linecap="butt"/>
<line x1="127.88" y1="668.00" x2="127.88" y2="660.50" stroke="#000" stroke-width="1.4" stroke-linecap="butt"/>
<line x1="127.88" y1="401.00" x2="127.88" y2="408.50" stroke="#000" stroke-width="1.4" stroke-linecap="butt"/>
<line x1="139.00" y1="668.00" x2="139.00" y2="653.00" stroke="#000" stroke-width="1.4" stroke-linecap="butt"/>
<line x1="139.00" y1="401.00" x2="139.00" y2="416.00" stroke="#000" stroke-width="1.4" stroke-linecap="butt"/>
<line x1="150.12" y1="668.00" x2="150.12" y2="660.50" stroke="#000" stroke-width="1.4" stroke-linecap="butt"/>
<line x1="150.12" y1="401.00" x2="150.12" y2="408.50" stroke="#000" stroke-width="1.4" stroke-linecap="butt"/>
<line x1="161.25" y1="668.00" x2="161.25" y2="660.50" stroke="#000" stroke-width="1.4" stroke-linecap="butt"/>
<line x1="161.25" y1="401.00" x2="161.25" y2="408.50" stroke="#000" stroke-width="1.4" stroke-linecap="butt"/>
<line x1="172.38" y1="668.00" x2="172.38" y2="660.50" stroke="#000" stroke-width="1.4" stroke-linecap="butt"/>
<line x1="172.38" y1="401.00" x2="172.38" y2="408.50" stroke="#000" stroke-width="1.4" stroke-linecap="butt"/>
<line x1="183.50" y1="668.00" x2="183.50" y2="653.00" stroke="#000" stroke-width="1.4" stroke-linecap="butt"/>
<line x1="183.50" y1="401.00" x2="183.50" y2="416.00" stroke="#000" stroke-width="1.4" stroke-linecap="butt"/>
<line x1="194.62" y1="668.00" x2="194.62" y2="660.50" stroke="#000" stroke-width="1.4" stroke-linecap="butt"/>
<line x1="194.62" y1="401.00" x2="194.62" y2="408.50" stroke="#000" stroke-width="1.4" stroke-linecap="butt"/>
<line x1="205.75" y1="668.00" x2="205.75" y2="660.50" stroke="#000" stroke-width="1.4" stroke-linecap="butt"/>
<line x1="205.75" y1="401.00" x2="205.75" y2="408.50" stroke="#000" stroke-width="1.4" stroke-linecap="butt"/>
<line x1="216.88" y1="668.00" x2="216.88" y2="660.50" stroke="#000" stroke-width="1.4" stroke-linecap="butt"/>
<line x1="216.88" y1="401.00" x2="216.88" y2="408.50" stroke="#000" stroke-width="1.4" stroke-linecap="butt"/>
<line x1="228.00" y1="668.00" x2="228.00" y2="653.00" stroke="#000" stroke-width="1.4" stroke-linecap="butt"/>
<line x1="228.00" y1="401.00" x2="228.00" y2="416.00" stroke="#000" stroke-width="1.4" stroke-linecap="butt"/>
<line x1="239.12" y1="668.00" x2="239.12" y2="660.50" stroke="#000" stroke-width="1.4" stroke-linecap="butt"/>
<line x1="239.12" y1="401.00" x2="239.12" y2="408.50" stroke="#000" stroke-width="1.4" stroke-linecap="butt"/>
<line x1="250.25" y1="668.00" x2="250.25" y2="660.50" stroke="#000" stroke-width="1.4" stroke-linecap="butt"/>
<line x1="250.25" y1="401.00" x2="250.25" y2="408.50" stroke="#000" stroke-width="1.4" stroke-linecap="butt"/>
<line x1="261.38" y1="668.00" x2="261.38" y2="660.50" stroke="#000" stroke-width="1.4" stroke-linecap="butt"/>
<line x1="261.38" y1="401.00" x2="261.38" y2="408.50" stroke="#000" stroke-width="1.4" stroke-linecap="butt"/>
<line x1="272.50" y1="668.00" x2="272.50" y2="653.00" stroke="#000" stroke-width="1.4" stroke-linecap="butt"/>
<line x1="272.50" y1="401.00" x2="272.50" y2="416.00" stroke="#000" stroke-width="1.4" stroke-linecap="butt"/>
<line x1="283.62" y1="668.00" x2="283.62" y2="660.50" stroke="#000" stroke-width="1.4" stroke-linecap="butt"/>
<line x1="283.62" y1="401.00" x2="283.62" y2="408.50" stroke="#000" stroke-width="1.4" stroke-linecap="butt"/>
<line x1="294.75" y1="668.00" x2="294.75" y2="660.50" stroke="#000" stroke-width="1.4" stroke-linecap="butt"/>
<line x1="294.75" y1="401.00" x2="294.75" y2="408.50" stroke="#000" stroke-width="1.4" stroke-linecap="butt"/>
<line x1="305.88" y1="668.00" x2="305.88" y2="660.50" stroke="#000" stroke-width="1.4" stroke-linecap="butt"/>
<line x1="305.88" y1="401.00" x2="305.88" y2="408.50" stroke="#000" stroke-width="1.4" stroke-linecap="butt"/>
<line x1="317.00" y1="668.00" x2="317.00" y2="653.00" stroke="#000" stroke-width="1.4" stroke-linecap="butt"/>
<line x1="317.00" y1="401.00" x2="317.00" y2="416.00" stroke="#000" stroke-width="1.4" stroke-linecap="butt"/>
<line x1="328.12" y1="668.00" x2="328.12" y2="660.50" stroke="#000" stroke-width="1.4" stroke-linecap="butt"/>
<line x1="328.12" y1="401.00" x2="328.12" y2="408.50" stroke="#000" stroke-width="1.4" stroke-linecap="butt"/>
<line x1="339.25" y1="668.00" x2="339.25" y2="660.50" stroke="#000" stroke-width="1.4" stroke-linecap="butt"/>
<line x1="339.25" y1="401.00" x2="339.25" y2="408.50" stroke="#000" stroke-width="1.4" stroke-linecap="butt"/>
<line x1="350.38" y1="668.00" x2="350.38" y2="660.50" stroke="#000" stroke-width="1.4" stroke-linecap="butt"/>
<line x1="350.38" y1="401.00" x2="350.38" y2="408.50" stroke="#000" stroke-width="1.4" stroke-linecap="butt"/>
<line x1="94.50" y1="651.31" x2="102.00" y2="651.31" stroke="#000" stroke-width="1.4" stroke-linecap="butt"/>
<line x1="361.50" y1="651.31" x2="354.00" y2="651.31" stroke="#000" stroke-width="1.4" stroke-linecap="butt"/>
<line x1="94.50" y1="634.62" x2="102.00" y2="634.62" stroke="#000" stroke-width="1.4" stroke-linecap="butt"/>
<line x1="361.50" y1="634.62" x2="354.00" y2="634.62" stroke="#000" stroke-width="1.4" stroke-linecap="butt"/>
<line x1="94.50" y1="617.94" x2="102.00" y2="617.94" stroke="#000" stroke-width="1.4" stroke-linecap="butt"/>
<line x1="361.50" y1="617.94" x2="354.00" y2="617.94" stroke="#000" stroke-width="1.4" stroke-linecap="butt"/>
<line x1="94.50" y1="601.25" x2="102.00" y2="601.25" stroke="#000" stroke-width="1.4" stroke-linecap="butt"/>
<line x1="361.50" y1="601.25" x2="354.00" y2="601.25" stroke="#000" stroke-width="1.4" stroke-linecap="butt"/>
<line x1="94.50" y1="584.56" x2="109.50" y2="584.56" stroke="#000" stroke-width="1.4" stroke-linecap="butt"/>
<line x1="361.50" y1="584.56" x2="346.50" y2="584.56" stroke="#000" stroke-width="1.4" stroke-linecap="butt"/>
<line x1="94.50" y1="567.88" x2="102.00" y2="567.88" stroke="#000" stroke-width="1.4" stroke-linecap="butt"/>
<line x1="361.50" y1="567.88" x2="354.00" y2="567.88" stroke="#000" stroke-width="1.4" stroke-linecap="butt"/>
<line x1="94.50" y1="551.19" x2="102.00" y2="551.19" stroke="#000" stroke-width="1.4" stroke-linecap="butt"/>
<line x1="361.50" y1="551.19" x2="354.00" y2="551.19" stroke="#000" stroke-width="1.4" stroke-linecap="butt"/>
<line x1="94.50" y1="534.50" x2="102.00" y2="534.50" stroke="#000" stroke-width="1.4" stroke-linecap="butt"/>
<line x1="361.50" y1="534.50" x2="354.00" y2="534.50" stroke="#000" stroke-width="1.4" stroke-linecap="butt"/>
<line x1="94.50" y1="517.81" x2="102.00" y2="517.81" stroke="#000" stroke-width="1.4" stroke-linecap="butt"/>
<line x1="361.50" y1="517.81" x2="354.00" y2="517.81" stroke="#000" stroke-width="1.4" stroke-linecap="butt"/>
<line x1="94.50" y1="501.12" x2="109.50" y2="501.12" stroke="#000" stroke-width="1.4" stroke-linecap="butt"/>
<line x1="361.50" y1="501.12" x2="346.50" y2="501.12" stroke="#000" stroke-width="1.4" stroke-linecap="butt"/>
<line x1="94.50" y1="484.44" x2="102.00" y2="484.44" stroke="#000" stroke-width="1.4" stroke-linecap="butt"/>
<line x1="361.50" y1="484.44" x2="354.00" y2="484.44" stroke="#000" stroke-width="1.4" stroke-linecap="butt"/>
<line x1="94.50" y1="467.75" x2="102.00" y2="467.75" stroke="#000" stroke-width="1.4" stroke-linecap="butt"/>
<line x1="361.50" y1="467.75" x2="354.00" y2="467.75" stroke="#000" stroke-width="1.4" stroke-linecap="butt"/>
<line x1="94.50" y1="451.06" x2="102.00" y2="451.06" stroke="#000" stroke-width="1.4" stroke-linecap="butt"/>
<line x1="361.50" y1="451.06" x2="354.00" y2="451.06" stroke="#000" stroke-width="1.4" stroke-linecap="butt"/>
<line x1="94.50" y1="434.38" x2="102.00" y2="434.38" stroke="#000" stroke-width="1.4" stroke-linecap="butt"/>
<line x1="361.50" y1="434.38" x2="354.00" y2="434.38" stroke="#000" stroke-width="1.4" stroke-linecap="butt"/>
<line x1="94.50" y1="417.69" x2="109.50" y2="417.69" stroke="#000" stroke-width="1.4" stroke-linecap="butt"/>
<line x1="361.50" y1="417.69" x2="346.50" y2="417.69" stroke="#000" stroke-width="1.4" stroke-linecap="butt"/>
<line x1="94.50" y1="401.00" x2="94.50" y2="668.00" stroke="#000" stroke-width="1.6" stroke-linecap="square"/>
<line x1="94.50" y1="401.00" x2="361.50" y2="401.00" stroke="#000" stroke-width="1.6" stroke-linecap="square"/>
<line x1="361.35" y1="401.00" x2="361.35" y2="668.00" stroke="#000" stroke-width="2.1" stroke-linecap="square"/>
<line x1="94.50" y1="667.90" x2="361.50" y2="667.90" stroke="#000" stroke-width="1.85" stroke-linecap="square"/>
<polyline points="116.75,418.36 139.00,421.44 161.25,427.28 183.50,436.46 205.75,448.56 228.00,463.58 250.25,480.68 272.50,502.79 294.75,524.90 317.00,554.52 339.25,582.89" fill="none" stroke="#ff0000" stroke-width="1.6" stroke-linejoin="round"/>
<polyline points="116.75,418.52 139.00,421.86 161.25,429.37 183.50,441.05 205.75,457.49 228.00,476.93 250.25,499.46 272.50,523.24 294.75,551.19 317.00,582.64 339.25,621.69" fill="none" stroke="#0000ff" stroke-width="1.6" stroke-linejoin="round"/>
<line x1="116.75" y1="417.36" x2="116.75" y2="419.36" stroke="#ff0000" stroke-width="1.5" stroke-linecap="butt"/>
<line x1="112.75" y1="417.36" x2="120.75" y2="417.36" stroke="#ff0000" stroke-width="1.5" stroke-linecap="butt"/>
<line x1="112.75" y1="419.36" x2="120.75" y2="419.36" stroke="#ff0000" stroke-width="1.5" stroke-linecap="butt"/>
<rect x="114.05" y="415.66" width="5.4" height="5.4" fill="none" stroke="#ff0000" stroke-width="1.5"/>
<line x1="116.75" y1="417.52" x2="116.75" y2="419.52" stroke="#0000ff" stroke-width="1.5" stroke-linecap="butt"/>
<line x1="112.75" y1="417.52" x2="120.75" y2="417.52" stroke="#0000ff" stroke-width="1.5" stroke-linecap="butt"/>
<line x1="112.75" y1="419.52" x2="120.75" y2="419.52" stroke="#0000ff" stroke-width="1.5" stroke-linecap="butt"/>
<circle cx="116.75" cy="418.52" r="4.0" fill="none" stroke="#0000ff" stroke-width="1.85"/>
<line x1="139.00" y1="419.72" x2="139.00" y2="422.32" stroke="#ff0000" stroke-width="1.5" stroke-linecap="butt"/>
<line x1="135.00" y1="419.72" x2="143.00" y2="419.72" stroke="#ff0000" stroke-width="1.5" stroke-linecap="butt"/>
<line x1="135.00" y1="422.32" x2="143.00" y2="422.32" stroke="#ff0000" stroke-width="1.5" stroke-linecap="butt"/>
<rect x="136.30" y="418.32" width="5.4" height="5.4" fill="none" stroke="#ff0000" stroke-width="1.5"/>
<line x1="139.00" y1="420.56" x2="139.00" y2="423.16" stroke="#0000ff" stroke-width="1.5" stroke-linecap="butt"/>
<line x1="135.00" y1="420.56" x2="143.00" y2="420.56" stroke="#0000ff" stroke-width="1.5" stroke-linecap="butt"/>
<line x1="135.00" y1="423.16" x2="143.00" y2="423.16" stroke="#0000ff" stroke-width="1.5" stroke-linecap="butt"/>
<circle cx="139.00" cy="421.86" r="4.0" fill="none" stroke="#0000ff" stroke-width="1.85"/>
<line x1="161.25" y1="424.43" x2="161.25" y2="427.63" stroke="#ff0000" stroke-width="1.5" stroke-linecap="butt"/>
<line x1="157.25" y1="424.43" x2="165.25" y2="424.43" stroke="#ff0000" stroke-width="1.5" stroke-linecap="butt"/>
<line x1="157.25" y1="427.63" x2="165.25" y2="427.63" stroke="#ff0000" stroke-width="1.5" stroke-linecap="butt"/>
<rect x="158.55" y="423.33" width="5.4" height="5.4" fill="none" stroke="#ff0000" stroke-width="1.5"/>
<line x1="161.25" y1="427.77" x2="161.25" y2="430.97" stroke="#0000ff" stroke-width="1.5" stroke-linecap="butt"/>
<line x1="157.25" y1="427.77" x2="165.25" y2="427.77" stroke="#0000ff" stroke-width="1.5" stroke-linecap="butt"/>
<line x1="157.25" y1="430.97" x2="165.25" y2="430.97" stroke="#0000ff" stroke-width="1.5" stroke-linecap="butt"/>
<circle cx="161.25" cy="429.37" r="4.0" fill="none" stroke="#0000ff" stroke-width="1.85"/>
<line x1="183.50" y1="432.79" x2="183.50" y2="436.79" stroke="#ff0000" stroke-width="1.5" stroke-linecap="butt"/>
<line x1="179.50" y1="432.79" x2="187.50" y2="432.79" stroke="#ff0000" stroke-width="1.5" stroke-linecap="butt"/>
<line x1="179.50" y1="436.79" x2="187.50" y2="436.79" stroke="#ff0000" stroke-width="1.5" stroke-linecap="butt"/>
<rect x="180.80" y="432.09" width="5.4" height="5.4" fill="none" stroke="#ff0000" stroke-width="1.5"/>
<line x1="183.50" y1="439.05" x2="183.50" y2="443.05" stroke="#0000ff" stroke-width="1.5" stroke-linecap="butt"/>
<line x1="179.50" y1="439.05" x2="187.50" y2="439.05" stroke="#0000ff" stroke-width="1.5" stroke-linecap="butt"/>
<line x1="179.50" y1="443.05" x2="187.50" y2="443.05" stroke="#0000ff" stroke-width="1.5" stroke-linecap="butt"/>
<circle cx="183.50" cy="441.05" r="4.0" fill="none" stroke="#0000ff" stroke-width="1.85"/>
<line x1="205.75" y1="443.81" x2="205.75" y2="448.81" stroke="#ff0000" stroke-width="1.5" stroke-linecap="butt"/>
<line x1="201.75" y1="443.81" x2="209.75" y2="443.81" stroke="#ff0000" stroke-width="1.5" stroke-linecap="butt"/>
<line x1="201.75" y1="448.81" x2="209.75" y2="448.81" stroke="#ff0000" stroke-width="1.5" stroke-linecap="butt"/>
<rect x="203.05" y="443.61" width="5.4" height="5.4" fill="none" stroke="#ff0000" stroke-width="1.5"/>
<line x1="205.75" y1="454.99" x2="205.75" y2="459.99" stroke="#0000ff" stroke-width="1.5" stroke-linecap="butt"/>
<line x1="201.75" y1="454.99" x2="209.75" y2="454.99" stroke="#0000ff" stroke-width="1.5" stroke-linecap="butt"/>
<line x1="201.75" y1="459.99" x2="209.75" y2="459.99" stroke="#0000ff" stroke-width="1.5" stroke-linecap="butt"/>
<circle cx="205.75" cy="457.49" r="4.0" fill="none" stroke="#0000ff" stroke-width="1.85"/>
<line x1="228.00" y1="457.57" x2="228.00" y2="463.57" stroke="#ff0000" stroke-width="1.5" stroke-linecap="butt"/>
<line x1="224.00" y1="457.57" x2="232.00" y2="457.57" stroke="#ff0000" stroke-width="1.5" stroke-linecap="butt"/>
<line x1="224.00" y1="463.57" x2="232.00" y2="463.57" stroke="#ff0000" stroke-width="1.5" stroke-linecap="butt"/>
<rect x="225.30" y="457.87" width="5.4" height="5.4" fill="none" stroke="#ff0000" stroke-width="1.5"/>
<line x1="228.00" y1="473.73" x2="228.00" y2="480.33" stroke="#0000ff" stroke-width="1.5" stroke-linecap="butt"/>
<line x1="224.00" y1="473.73" x2="232.00" y2="473.73" stroke="#0000ff" stroke-width="1.5" stroke-linecap="butt"/>
<line x1="224.00" y1="480.33" x2="232.00" y2="480.33" stroke="#0000ff" stroke-width="1.5" stroke-linecap="butt"/>
<circle cx="228.00" cy="476.93" r="4.0" fill="none" stroke="#0000ff" stroke-width="1.85"/>
<line x1="250.25" y1="472.73" x2="250.25" y2="481.33" stroke="#ff0000" stroke-width="1.5" stroke-linecap="butt"/>
<line x1="246.25" y1="472.73" x2="254.25" y2="472.73" stroke="#ff0000" stroke-width="1.5" stroke-linecap="butt"/>
<line x1="246.25" y1="481.33" x2="254.25" y2="481.33" stroke="#ff0000" stroke-width="1.5" stroke-linecap="butt"/>
<rect x="247.55" y="474.23" width="5.4" height="5.4" fill="none" stroke="#ff0000" stroke-width="1.5"/>
<line x1="250.25" y1="494.66" x2="250.25" y2="504.46" stroke="#0000ff" stroke-width="1.5" stroke-linecap="butt"/>
<line x1="246.25" y1="494.66" x2="254.25" y2="494.66" stroke="#0000ff" stroke-width="1.5" stroke-linecap="butt"/>
<line x1="246.25" y1="504.46" x2="254.25" y2="504.46" stroke="#0000ff" stroke-width="1.5" stroke-linecap="butt"/>
<circle cx="250.25" cy="499.46" r="4.0" fill="none" stroke="#0000ff" stroke-width="1.85"/>
<line x1="272.50" y1="490.59" x2="272.50" y2="502.59" stroke="#ff0000" stroke-width="1.5" stroke-linecap="butt"/>
<line x1="268.50" y1="490.59" x2="276.50" y2="490.59" stroke="#ff0000" stroke-width="1.5" stroke-linecap="butt"/>
<line x1="268.50" y1="502.59" x2="276.50" y2="502.59" stroke="#ff0000" stroke-width="1.5" stroke-linecap="butt"/>
<rect x="269.80" y="493.59" width="5.4" height="5.4" fill="none" stroke="#ff0000" stroke-width="1.5"/>
<line x1="272.50" y1="516.64" x2="272.50" y2="530.64" stroke="#0000ff" stroke-width="1.5" stroke-linecap="butt"/>
<line x1="268.50" y1="516.64" x2="276.50" y2="516.64" stroke="#0000ff" stroke-width="1.5" stroke-linecap="butt"/>
<line x1="268.50" y1="530.64" x2="276.50" y2="530.64" stroke="#0000ff" stroke-width="1.5" stroke-linecap="butt"/>
<circle cx="272.50" cy="523.24" r="4.0" fill="none" stroke="#0000ff" stroke-width="1.85"/>
<line x1="294.75" y1="510.81" x2="294.75" y2="526.81" stroke="#ff0000" stroke-width="1.5" stroke-linecap="butt"/>
<line x1="290.75" y1="510.81" x2="298.75" y2="510.81" stroke="#ff0000" stroke-width="1.5" stroke-linecap="butt"/>
<line x1="290.75" y1="526.81" x2="298.75" y2="526.81" stroke="#ff0000" stroke-width="1.5" stroke-linecap="butt"/>
<rect x="292.05" y="515.11" width="5.4" height="5.4" fill="none" stroke="#ff0000" stroke-width="1.5"/>
<line x1="294.75" y1="541.59" x2="294.75" y2="562.19" stroke="#0000ff" stroke-width="1.5" stroke-linecap="butt"/>
<line x1="290.75" y1="541.59" x2="298.75" y2="541.59" stroke="#0000ff" stroke-width="1.5" stroke-linecap="butt"/>
<line x1="290.75" y1="562.19" x2="298.75" y2="562.19" stroke="#0000ff" stroke-width="1.5" stroke-linecap="butt"/>
<circle cx="294.75" cy="551.19" r="4.0" fill="none" stroke="#0000ff" stroke-width="1.85"/>
<line x1="317.00" y1="532.51" x2="317.00" y2="554.81" stroke="#ff0000" stroke-width="1.5" stroke-linecap="butt"/>
<line x1="313.00" y1="532.51" x2="321.00" y2="532.51" stroke="#ff0000" stroke-width="1.5" stroke-linecap="butt"/>
<line x1="313.00" y1="554.81" x2="321.00" y2="554.81" stroke="#ff0000" stroke-width="1.5" stroke-linecap="butt"/>
<rect x="314.30" y="539.31" width="5.4" height="5.4" fill="none" stroke="#ff0000" stroke-width="1.5"/>
<line x1="317.00" y1="571.04" x2="317.00" y2="600.04" stroke="#0000ff" stroke-width="1.5" stroke-linecap="butt"/>
<line x1="313.00" y1="571.04" x2="321.00" y2="571.04" stroke="#0000ff" stroke-width="1.5" stroke-linecap="butt"/>
<line x1="313.00" y1="600.04" x2="321.00" y2="600.04" stroke="#0000ff" stroke-width="1.5" stroke-linecap="butt"/>
<circle cx="317.00" cy="582.64" r="4.0" fill="none" stroke="#0000ff" stroke-width="1.85"/>
<line x1="339.25" y1="558.60" x2="339.25" y2="590.10" stroke="#ff0000" stroke-width="1.5" stroke-linecap="butt"/>
<line x1="335.25" y1="558.60" x2="343.25" y2="558.60" stroke="#ff0000" stroke-width="1.5" stroke-linecap="butt"/>
<line x1="335.25" y1="590.10" x2="343.25" y2="590.10" stroke="#ff0000" stroke-width="1.5" stroke-linecap="butt"/>
<rect x="336.55" y="568.10" width="5.4" height="5.4" fill="none" stroke="#ff0000" stroke-width="1.5"/>
<line x1="339.25" y1="605.29" x2="339.25" y2="650.29" stroke="#0000ff" stroke-width="1.5" stroke-linecap="butt"/>
<line x1="335.25" y1="605.29" x2="343.25" y2="605.29" stroke="#0000ff" stroke-width="1.5" stroke-linecap="butt"/>
<line x1="335.25" y1="650.29" x2="343.25" y2="650.29" stroke="#0000ff" stroke-width="1.5" stroke-linecap="butt"/>
<circle cx="339.25" cy="621.69" r="4.0" fill="none" stroke="#0000ff" stroke-width="1.85"/>
<line x1="504.15" y1="668.00" x2="504.15" y2="660.50" stroke="#000" stroke-width="1.4" stroke-linecap="butt"/>
<line x1="504.15" y1="401.00" x2="504.15" y2="408.50" stroke="#000" stroke-width="1.4" stroke-linecap="butt"/>
<line x1="522.96" y1="668.00" x2="522.96" y2="660.50" stroke="#000" stroke-width="1.4" stroke-linecap="butt"/>
<line x1="522.96" y1="401.00" x2="522.96" y2="408.50" stroke="#000" stroke-width="1.4" stroke-linecap="butt"/>
<line x1="536.30" y1="668.00" x2="536.30" y2="660.50" stroke="#000" stroke-width="1.4" stroke-linecap="butt"/>
<line x1="536.30" y1="401.00" x2="536.30" y2="408.50" stroke="#000" stroke-width="1.4" stroke-linecap="butt"/>
<line x1="546.65" y1="668.00" x2="546.65" y2="660.50" stroke="#000" stroke-width="1.4" stroke-linecap="butt"/>
<line x1="546.65" y1="401.00" x2="546.65" y2="408.50" stroke="#000" stroke-width="1.4" stroke-linecap="butt"/>
<line x1="555.11" y1="668.00" x2="555.11" y2="660.50" stroke="#000" stroke-width="1.4" stroke-linecap="butt"/>
<line x1="555.11" y1="401.00" x2="555.11" y2="408.50" stroke="#000" stroke-width="1.4" stroke-linecap="butt"/>
<line x1="562.26" y1="668.00" x2="562.26" y2="660.50" stroke="#000" stroke-width="1.4" stroke-linecap="butt"/>
<line x1="562.26" y1="401.00" x2="562.26" y2="408.50" stroke="#000" stroke-width="1.4" stroke-linecap="butt"/>
<line x1="568.45" y1="668.00" x2="568.45" y2="660.50" stroke="#000" stroke-width="1.4" stroke-linecap="butt"/>
<line x1="568.45" y1="401.00" x2="568.45" y2="408.50" stroke="#000" stroke-width="1.4" stroke-linecap="butt"/>
<line x1="573.91" y1="668.00" x2="573.91" y2="660.50" stroke="#000" stroke-width="1.4" stroke-linecap="butt"/>
<line x1="573.91" y1="401.00" x2="573.91" y2="408.50" stroke="#000" stroke-width="1.4" stroke-linecap="butt"/>
<line x1="578.80" y1="668.00" x2="578.80" y2="653.00" stroke="#000" stroke-width="1.4" stroke-linecap="butt"/>
<line x1="578.80" y1="401.00" x2="578.80" y2="416.00" stroke="#000" stroke-width="1.4" stroke-linecap="butt"/>
<line x1="610.95" y1="668.00" x2="610.95" y2="660.50" stroke="#000" stroke-width="1.4" stroke-linecap="butt"/>
<line x1="610.95" y1="401.00" x2="610.95" y2="408.50" stroke="#000" stroke-width="1.4" stroke-linecap="butt"/>
<line x1="629.76" y1="668.00" x2="629.76" y2="660.50" stroke="#000" stroke-width="1.4" stroke-linecap="butt"/>
<line x1="629.76" y1="401.00" x2="629.76" y2="408.50" stroke="#000" stroke-width="1.4" stroke-linecap="butt"/>
<line x1="643.10" y1="668.00" x2="643.10" y2="660.50" stroke="#000" stroke-width="1.4" stroke-linecap="butt"/>
<line x1="643.10" y1="401.00" x2="643.10" y2="408.50" stroke="#000" stroke-width="1.4" stroke-linecap="butt"/>
<line x1="653.45" y1="668.00" x2="653.45" y2="660.50" stroke="#000" stroke-width="1.4" stroke-linecap="butt"/>
<line x1="653.45" y1="401.00" x2="653.45" y2="408.50" stroke="#000" stroke-width="1.4" stroke-linecap="butt"/>
<line x1="661.91" y1="668.00" x2="661.91" y2="660.50" stroke="#000" stroke-width="1.4" stroke-linecap="butt"/>
<line x1="661.91" y1="401.00" x2="661.91" y2="408.50" stroke="#000" stroke-width="1.4" stroke-linecap="butt"/>
<line x1="669.06" y1="668.00" x2="669.06" y2="660.50" stroke="#000" stroke-width="1.4" stroke-linecap="butt"/>
<line x1="669.06" y1="401.00" x2="669.06" y2="408.50" stroke="#000" stroke-width="1.4" stroke-linecap="butt"/>
<line x1="675.25" y1="668.00" x2="675.25" y2="660.50" stroke="#000" stroke-width="1.4" stroke-linecap="butt"/>
<line x1="675.25" y1="401.00" x2="675.25" y2="408.50" stroke="#000" stroke-width="1.4" stroke-linecap="butt"/>
<line x1="680.71" y1="668.00" x2="680.71" y2="660.50" stroke="#000" stroke-width="1.4" stroke-linecap="butt"/>
<line x1="680.71" y1="401.00" x2="680.71" y2="408.50" stroke="#000" stroke-width="1.4" stroke-linecap="butt"/>
<line x1="685.60" y1="668.00" x2="685.60" y2="653.00" stroke="#000" stroke-width="1.4" stroke-linecap="butt"/>
<line x1="685.60" y1="401.00" x2="685.60" y2="416.00" stroke="#000" stroke-width="1.4" stroke-linecap="butt"/>
<line x1="717.75" y1="668.00" x2="717.75" y2="660.50" stroke="#000" stroke-width="1.4" stroke-linecap="butt"/>
<line x1="717.75" y1="401.00" x2="717.75" y2="408.50" stroke="#000" stroke-width="1.4" stroke-linecap="butt"/>
<line x1="736.56" y1="668.00" x2="736.56" y2="660.50" stroke="#000" stroke-width="1.4" stroke-linecap="butt"/>
<line x1="736.56" y1="401.00" x2="736.56" y2="408.50" stroke="#000" stroke-width="1.4" stroke-linecap="butt"/>
<line x1="472.00" y1="654.65" x2="479.50" y2="654.65" stroke="#000" stroke-width="1.4" stroke-linecap="butt"/>
<line x1="739.00" y1="654.65" x2="731.50" y2="654.65" stroke="#000" stroke-width="1.4" stroke-linecap="butt"/>
<line x1="472.00" y1="641.30" x2="479.50" y2="641.30" stroke="#000" stroke-width="1.4" stroke-linecap="butt"/>
<line x1="739.00" y1="641.30" x2="731.50" y2="641.30" stroke="#000" stroke-width="1.4" stroke-linecap="butt"/>
<line x1="472.00" y1="627.95" x2="479.50" y2="627.95" stroke="#000" stroke-width="1.4" stroke-linecap="butt"/>
<line x1="739.00" y1="627.95" x2="731.50" y2="627.95" stroke="#000" stroke-width="1.4" stroke-linecap="butt"/>
<line x1="472.00" y1="614.60" x2="487.00" y2="614.60" stroke="#000" stroke-width="1.4" stroke-linecap="butt"/>
<line x1="739.00" y1="614.60" x2="724.00" y2="614.60" stroke="#000" stroke-width="1.4" stroke-linecap="butt"/>
<line x1="472.00" y1="601.25" x2="479.50" y2="601.25" stroke="#000" stroke-width="1.4" stroke-linecap="butt"/>
<line x1="739.00" y1="601.25" x2="731.50" y2="601.25" stroke="#000" stroke-width="1.4" stroke-linecap="butt"/>
<line x1="472.00" y1="587.90" x2="479.50" y2="587.90" stroke="#000" stroke-width="1.4" stroke-linecap="butt"/>
<line x1="739.00" y1="587.90" x2="731.50" y2="587.90" stroke="#000" stroke-width="1.4" stroke-linecap="butt"/>
<line x1="472.00" y1="574.55" x2="479.50" y2="574.55" stroke="#000" stroke-width="1.4" stroke-linecap="butt"/>
<line x1="739.00" y1="574.55" x2="731.50" y2="574.55" stroke="#000" stroke-width="1.4" stroke-linecap="butt"/>
<line x1="472.00" y1="561.20" x2="487.00" y2="561.20" stroke="#000" stroke-width="1.4" stroke-linecap="butt"/>
<line x1="739.00" y1="561.20" x2="724.00" y2="561.20" stroke="#000" stroke-width="1.4" stroke-linecap="butt"/>
<line x1="472.00" y1="547.85" x2="479.50" y2="547.85" stroke="#000" stroke-width="1.4" stroke-linecap="butt"/>
<line x1="739.00" y1="547.85" x2="731.50" y2="547.85" stroke="#000" stroke-width="1.4" stroke-linecap="butt"/>
<line x1="472.00" y1="534.50" x2="479.50" y2="534.50" stroke="#000" stroke-width="1.4" stroke-linecap="butt"/>
<line x1="739.00" y1="534.50" x2="731.50" y2="534.50" stroke="#000" stroke-width="1.4" stroke-linecap="butt"/>
<line x1="472.00" y1="521.15" x2="479.50" y2="521.15" stroke="#000" stroke-width="1.4" stroke-linecap="butt"/>
<line x1="739.00" y1="521.15" x2="731.50" y2="521.15" stroke="#000" stroke-width="1.4" stroke-linecap="butt"/>
<line x1="472.00" y1="507.80" x2="487.00" y2="507.80" stroke="#000" stroke-width="1.4" stroke-linecap="butt"/>
<line x1="739.00" y1="507.80" x2="724.00" y2="507.80" stroke="#000" stroke-width="1.4" stroke-linecap="butt"/>
<line x1="472.00" y1="494.45" x2="479.50" y2="494.45" stroke="#000" stroke-width="1.4" stroke-linecap="butt"/>
<line x1="739.00" y1="494.45" x2="731.50" y2="494.45" stroke="#000" stroke-width="1.4" stroke-linecap="butt"/>
<line x1="472.00" y1="481.10" x2="479.50" y2="481.10" stroke="#000" stroke-width="1.4" stroke-linecap="butt"/>
<line x1="739.00" y1="481.10" x2="731.50" y2="481.10" stroke="#000" stroke-width="1.4" stroke-linecap="butt"/>
<line x1="472.00" y1="467.75" x2="479.50" y2="467.75" stroke="#000" stroke-width="1.4" stroke-linecap="butt"/>
<line x1="739.00" y1="467.75" x2="731.50" y2="467.75" stroke="#000" stroke-width="1.4" stroke-linecap="butt"/>
<line x1="472.00" y1="454.40" x2="487.00" y2="454.40" stroke="#000" stroke-width="1.4" stroke-linecap="butt"/>
<line x1="739.00" y1="454.40" x2="724.00" y2="454.40" stroke="#000" stroke-width="1.4" stroke-linecap="butt"/>
<line x1="472.00" y1="441.05" x2="479.50" y2="441.05" stroke="#000" stroke-width="1.4" stroke-linecap="butt"/>
<line x1="739.00" y1="441.05" x2="731.50" y2="441.05" stroke="#000" stroke-width="1.4" stroke-linecap="butt"/>
<line x1="472.00" y1="427.70" x2="479.50" y2="427.70" stroke="#000" stroke-width="1.4" stroke-linecap="butt"/>
<line x1="739.00" y1="427.70" x2="731.50" y2="427.70" stroke="#000" stroke-width="1.4" stroke-linecap="butt"/>
<line x1="472.00" y1="414.35" x2="479.50" y2="414.35" stroke="#000" stroke-width="1.4" stroke-linecap="butt"/>
<line x1="739.00" y1="414.35" x2="731.50" y2="414.35" stroke="#000" stroke-width="1.4" stroke-linecap="butt"/>
<line x1="472.00" y1="401.00" x2="472.00" y2="668.00" stroke="#000" stroke-width="1.6" stroke-linecap="square"/>
<line x1="472.00" y1="401.00" x2="739.00" y2="401.00" stroke="#000" stroke-width="1.6" stroke-linecap="square"/>
<line x1="738.85" y1="401.00" x2="738.85" y2="668.00" stroke="#000" stroke-width="2.1" stroke-linecap="square"/>
<line x1="472.00" y1="667.90" x2="739.00" y2="667.90" stroke="#000" stroke-width="1.85" stroke-linecap="square"/>
<polyline points="472.00,413.52 474.23,414.10 476.45,414.70 478.68,415.32 480.90,415.98 483.12,416.66 485.35,417.36 487.57,418.10 489.80,418.87 492.02,419.66 494.25,420.49 496.48,421.36 498.70,422.25 500.93,423.19 503.15,424.15 505.38,425.16 507.60,426.20 509.82,427.28 512.05,428.40 514.27,429.56 516.50,430.77 518.73,432.01 520.95,433.30 523.17,434.63 525.40,436.00 527.62,437.42 529.85,438.89 532.08,440.40 534.30,441.96 536.52,443.57 538.75,445.22 540.98,446.92 543.20,448.67 545.42,450.47 547.65,452.32 549.88,454.21 552.10,456.15 554.33,458.14 556.55,460.17 558.77,462.26 561.00,464.38 563.23,466.55 565.45,468.77 567.67,471.03 569.90,473.33 572.12,475.67 574.35,478.05 576.58,480.47 578.80,482.93 581.02,485.42 583.25,487.94 585.48,490.50 587.70,493.09 589.92,495.70 592.15,498.34 594.38,501.00 596.60,503.68 598.83,506.38 601.05,509.10 603.27,511.83 605.50,514.58 607.73,517.33 609.95,520.09 612.17,522.86 614.40,525.63 616.62,528.40 618.85,531.16 621.08,533.93 623.30,536.68 625.52,539.43 627.75,542.16 629.98,544.89 632.20,547.59 634.42,550.28 636.65,552.95 638.88,555.60 641.10,558.23 643.33,560.83 645.55,563.41 647.77,565.96 650.00,568.47 652.23,570.96 654.45,573.42 656.67,575.84 658.90,578.23 661.12,580.59 663.35,582.91 665.58,585.19 667.80,587.43 670.02,589.64 672.25,591.81 674.48,593.94 676.70,596.02 678.92,598.07 681.15,600.08 683.38,602.05 685.60,603.98 687.83,605.86 690.05,607.71 692.27,609.51 694.50,611.28 696.72,613.00 698.95,614.69 701.17,616.33 703.40,617.94 705.62,619.50 707.85,621.03 710.08,622.51 712.30,623.96 714.53,625.38 716.75,626.75 718.98,628.09 721.20,629.39 723.42,630.66 725.65,631.89 727.88,633.08 730.10,634.25 732.33,635.38 734.55,636.48 736.77,637.54 739.00,638.58" fill="none" stroke="#000" stroke-width="1.6" stroke-linejoin="round"/>
<path d="M472.10,412.70 C474.00,413.28 479.68,414.95 483.50,416.20 C487.32,417.45 491.38,418.92 495.00,420.20 C498.62,421.48 501.78,422.52 505.20,423.90 C508.62,425.28 512.08,426.88 515.50,428.50 C518.92,430.12 522.15,431.77 525.70,433.60 C529.25,435.43 533.25,437.38 536.80,439.50 C540.35,441.62 543.53,443.93 547.00,446.30 C550.47,448.67 554.05,450.90 557.60,453.70 C561.15,456.50 565.05,460.08 568.30,463.10 C571.55,466.12 573.75,468.32 577.10,471.80 C580.45,475.28 585.20,480.58 588.40,484.00 C591.60,487.42 593.58,489.55 596.30,492.30 C599.02,495.05 602.08,497.92 604.70,500.50 C607.32,503.08 609.47,505.00 612.00,507.80 C614.53,510.60 617.30,514.27 619.90,517.30 C622.50,520.33 625.20,523.30 627.60,526.00 C630.00,528.70 631.75,530.68 634.30,533.50 C636.85,536.32 640.10,539.80 642.90,542.90 C645.70,546.00 648.60,549.32 651.10,552.10 C653.60,554.88 655.67,557.17 657.90,559.60 C660.13,562.03 662.45,564.48 664.50,566.70 C666.55,568.92 666.28,568.77 670.20,572.90 C674.12,577.03 681.90,585.57 688.00,591.50 C694.10,597.43 703.67,605.67 706.80,608.50" fill="none" stroke="#ff0000" stroke-width="2.1" stroke-dasharray="0.1 5.95" stroke-linecap="round"/>
<line x1="515.78" y1="427.24" x2="515.78" y2="432.44" stroke="#ff0000" stroke-width="1.5" stroke-linecap="butt"/>
<line x1="511.98" y1="427.24" x2="519.58" y2="427.24" stroke="#ff0000" stroke-width="1.5" stroke-linecap="butt"/>
<line x1="511.98" y1="432.44" x2="519.58" y2="432.44" stroke="#ff0000" stroke-width="1.5" stroke-linecap="butt"/>
<rect x="513.08" y="427.14" width="5.4" height="5.4" fill="none" stroke="#ff0000" stroke-width="1.5"/>
<line x1="577.20" y1="467.79" x2="577.20" y2="476.79" stroke="#ff0000" stroke-width="1.5" stroke-linecap="butt"/>
<line x1="573.40" y1="467.79" x2="581.00" y2="467.79" stroke="#ff0000" stroke-width="1.5" stroke-linecap="butt"/>
<line x1="573.40" y1="476.79" x2="581.00" y2="476.79" stroke="#ff0000" stroke-width="1.5" stroke-linecap="butt"/>
<rect x="574.50" y="469.59" width="5.4" height="5.4" fill="none" stroke="#ff0000" stroke-width="1.5"/>
<line x1="611.87" y1="500.33" x2="611.87" y2="511.53" stroke="#ff0000" stroke-width="1.5" stroke-linecap="butt"/>
<line x1="608.07" y1="500.33" x2="615.67" y2="500.33" stroke="#ff0000" stroke-width="1.5" stroke-linecap="butt"/>
<line x1="608.07" y1="511.53" x2="615.67" y2="511.53" stroke="#ff0000" stroke-width="1.5" stroke-linecap="butt"/>
<rect x="609.17" y="503.23" width="5.4" height="5.4" fill="none" stroke="#ff0000" stroke-width="1.5"/>
<line x1="634.46" y1="523.93" x2="634.46" y2="534.93" stroke="#ff0000" stroke-width="1.5" stroke-linecap="butt"/>
<line x1="630.66" y1="523.93" x2="638.26" y2="523.93" stroke="#ff0000" stroke-width="1.5" stroke-linecap="butt"/>
<line x1="630.66" y1="534.93" x2="638.26" y2="534.93" stroke="#ff0000" stroke-width="1.5" stroke-linecap="butt"/>
<rect x="631.76" y="526.73" width="5.4" height="5.4" fill="none" stroke="#ff0000" stroke-width="1.5"/>
<line x1="651.27" y1="543.30" x2="651.27" y2="554.80" stroke="#ff0000" stroke-width="1.5" stroke-linecap="butt"/>
<line x1="647.47" y1="543.30" x2="655.07" y2="543.30" stroke="#ff0000" stroke-width="1.5" stroke-linecap="butt"/>
<line x1="647.47" y1="554.80" x2="655.07" y2="554.80" stroke="#ff0000" stroke-width="1.5" stroke-linecap="butt"/>
<rect x="648.57" y="546.35" width="5.4" height="5.4" fill="none" stroke="#ff0000" stroke-width="1.5"/>
<line x1="664.68" y1="557.97" x2="664.68" y2="569.77" stroke="#ff0000" stroke-width="1.5" stroke-linecap="butt"/>
<line x1="660.88" y1="557.97" x2="668.48" y2="557.97" stroke="#ff0000" stroke-width="1.5" stroke-linecap="butt"/>
<line x1="660.88" y1="569.77" x2="668.48" y2="569.77" stroke="#ff0000" stroke-width="1.5" stroke-linecap="butt"/>
<rect x="661.98" y="561.17" width="5.4" height="5.4" fill="none" stroke="#ff0000" stroke-width="1.5"/>
<line x1="674.67" y1="570.18" x2="674.67" y2="581.59" stroke="#ff0000" stroke-width="1.5" stroke-linecap="butt"/>
<line x1="670.87" y1="570.18" x2="678.47" y2="570.18" stroke="#ff0000" stroke-width="1.5" stroke-linecap="butt"/>
<line x1="670.87" y1="581.59" x2="678.47" y2="581.59" stroke="#ff0000" stroke-width="1.5" stroke-linecap="butt"/>
<rect x="671.97" y="573.18" width="5.4" height="5.4" fill="none" stroke="#ff0000" stroke-width="1.5"/>
<line x1="681.73" y1="580.06" x2="681.73" y2="591.46" stroke="#ff0000" stroke-width="1.5" stroke-linecap="butt"/>
<line x1="677.93" y1="580.06" x2="685.53" y2="580.06" stroke="#ff0000" stroke-width="1.5" stroke-linecap="butt"/>
<line x1="677.93" y1="591.46" x2="685.53" y2="591.46" stroke="#ff0000" stroke-width="1.5" stroke-linecap="butt"/>
<rect x="679.03" y="583.06" width="5.4" height="5.4" fill="none" stroke="#ff0000" stroke-width="1.5"/>
<line x1="688.30" y1="588.14" x2="688.30" y2="599.94" stroke="#ff0000" stroke-width="1.5" stroke-linecap="butt"/>
<line x1="684.50" y1="588.14" x2="692.10" y2="588.14" stroke="#ff0000" stroke-width="1.5" stroke-linecap="butt"/>
<line x1="684.50" y1="599.94" x2="692.10" y2="599.94" stroke="#ff0000" stroke-width="1.5" stroke-linecap="butt"/>
<rect x="685.60" y="591.34" width="5.4" height="5.4" fill="none" stroke="#ff0000" stroke-width="1.5"/>
<line x1="692.88" y1="595.32" x2="692.88" y2="607.72" stroke="#ff0000" stroke-width="1.5" stroke-linecap="butt"/>
<line x1="689.08" y1="595.32" x2="696.68" y2="595.32" stroke="#ff0000" stroke-width="1.5" stroke-linecap="butt"/>
<line x1="689.08" y1="607.72" x2="696.68" y2="607.72" stroke="#ff0000" stroke-width="1.5" stroke-linecap="butt"/>
<rect x="690.18" y="598.82" width="5.4" height="5.4" fill="none" stroke="#ff0000" stroke-width="1.5"/>
<line x1="698.48" y1="599.89" x2="698.48" y2="613.29" stroke="#ff0000" stroke-width="1.5" stroke-linecap="butt"/>
<line x1="694.68" y1="599.89" x2="702.28" y2="599.89" stroke="#ff0000" stroke-width="1.5" stroke-linecap="butt"/>
<line x1="694.68" y1="613.29" x2="702.28" y2="613.29" stroke="#ff0000" stroke-width="1.5" stroke-linecap="butt"/>
<rect x="695.78" y="603.89" width="5.4" height="5.4" fill="none" stroke="#ff0000" stroke-width="1.5"/>
<line x1="487.94" y1="418.39" x2="487.94" y2="419.39" stroke="#0000ff" stroke-width="1.5" stroke-linecap="butt"/>
<line x1="484.44" y1="418.39" x2="491.44" y2="418.39" stroke="#0000ff" stroke-width="1.5" stroke-linecap="butt"/>
<line x1="484.44" y1="419.39" x2="491.44" y2="419.39" stroke="#0000ff" stroke-width="1.5" stroke-linecap="butt"/>
<circle cx="487.94" cy="418.89" r="4.0" fill="none" stroke="#0000ff" stroke-width="1.85"/>
<line x1="548.74" y1="455.07" x2="548.74" y2="457.47" stroke="#0000ff" stroke-width="1.5" stroke-linecap="butt"/>
<line x1="545.24" y1="455.07" x2="552.24" y2="455.07" stroke="#0000ff" stroke-width="1.5" stroke-linecap="butt"/>
<line x1="545.24" y1="457.47" x2="552.24" y2="457.47" stroke="#0000ff" stroke-width="1.5" stroke-linecap="butt"/>
<circle cx="548.74" cy="456.27" r="4.0" fill="none" stroke="#0000ff" stroke-width="1.85"/>
<line x1="582.71" y1="489.45" x2="582.71" y2="493.05" stroke="#0000ff" stroke-width="1.5" stroke-linecap="butt"/>
<line x1="579.21" y1="489.45" x2="586.21" y2="489.45" stroke="#0000ff" stroke-width="1.5" stroke-linecap="butt"/>
<line x1="579.21" y1="493.05" x2="586.21" y2="493.05" stroke="#0000ff" stroke-width="1.5" stroke-linecap="butt"/>
<circle cx="582.71" cy="491.25" r="4.0" fill="none" stroke="#0000ff" stroke-width="1.85"/>
<line x1="606.58" y1="517.05" x2="606.58" y2="522.05" stroke="#0000ff" stroke-width="1.5" stroke-linecap="butt"/>
<line x1="603.08" y1="517.05" x2="610.08" y2="517.05" stroke="#0000ff" stroke-width="1.5" stroke-linecap="butt"/>
<line x1="603.08" y1="522.05" x2="610.08" y2="522.05" stroke="#0000ff" stroke-width="1.5" stroke-linecap="butt"/>
<circle cx="606.58" cy="519.55" r="4.0" fill="none" stroke="#0000ff" stroke-width="1.85"/>
<line x1="624.70" y1="537.91" x2="624.70" y2="543.91" stroke="#0000ff" stroke-width="1.5" stroke-linecap="butt"/>
<line x1="621.20" y1="537.91" x2="628.20" y2="537.91" stroke="#0000ff" stroke-width="1.5" stroke-linecap="butt"/>
<line x1="621.20" y1="543.91" x2="628.20" y2="543.91" stroke="#0000ff" stroke-width="1.5" stroke-linecap="butt"/>
<circle cx="624.70" cy="540.91" r="4.0" fill="none" stroke="#0000ff" stroke-width="1.85"/>
<line x1="639.11" y1="554.83" x2="639.11" y2="561.43" stroke="#0000ff" stroke-width="1.5" stroke-linecap="butt"/>
<line x1="635.61" y1="554.83" x2="642.61" y2="554.83" stroke="#0000ff" stroke-width="1.5" stroke-linecap="butt"/>
<line x1="635.61" y1="561.43" x2="642.61" y2="561.43" stroke="#0000ff" stroke-width="1.5" stroke-linecap="butt"/>
<circle cx="639.11" cy="558.13" r="4.0" fill="none" stroke="#0000ff" stroke-width="1.85"/>
<line x1="650.68" y1="569.18" x2="650.68" y2="576.18" stroke="#0000ff" stroke-width="1.5" stroke-linecap="butt"/>
<line x1="647.18" y1="569.18" x2="654.18" y2="569.18" stroke="#0000ff" stroke-width="1.5" stroke-linecap="butt"/>
<line x1="647.18" y1="576.18" x2="654.18" y2="576.18" stroke="#0000ff" stroke-width="1.5" stroke-linecap="butt"/>
<circle cx="650.68" cy="572.68" r="4.0" fill="none" stroke="#0000ff" stroke-width="1.85"/>
<line x1="660.49" y1="581.10" x2="660.49" y2="588.30" stroke="#0000ff" stroke-width="1.5" stroke-linecap="butt"/>
<line x1="656.99" y1="581.10" x2="663.99" y2="581.10" stroke="#0000ff" stroke-width="1.5" stroke-linecap="butt"/>
<line x1="656.99" y1="588.30" x2="663.99" y2="588.30" stroke="#0000ff" stroke-width="1.5" stroke-linecap="butt"/>
<circle cx="660.49" cy="584.70" r="4.0" fill="none" stroke="#0000ff" stroke-width="1.85"/>
<line x1="668.52" y1="590.47" x2="668.52" y2="597.87" stroke="#0000ff" stroke-width="1.5" stroke-linecap="butt"/>
<line x1="665.02" y1="590.47" x2="672.02" y2="590.47" stroke="#0000ff" stroke-width="1.5" stroke-linecap="butt"/>
<line x1="665.02" y1="597.87" x2="672.02" y2="597.87" stroke="#0000ff" stroke-width="1.5" stroke-linecap="butt"/>
<circle cx="668.52" cy="594.17" r="4.0" fill="none" stroke="#0000ff" stroke-width="1.85"/>
<line x1="675.48" y1="597.72" x2="675.48" y2="605.32" stroke="#0000ff" stroke-width="1.5" stroke-linecap="butt"/>
<line x1="671.98" y1="597.72" x2="678.98" y2="597.72" stroke="#0000ff" stroke-width="1.5" stroke-linecap="butt"/>
<line x1="671.98" y1="605.32" x2="678.98" y2="605.32" stroke="#0000ff" stroke-width="1.5" stroke-linecap="butt"/>
<circle cx="675.48" cy="601.52" r="4.0" fill="none" stroke="#0000ff" stroke-width="1.85"/>
<line x1="682.63" y1="602.82" x2="682.63" y2="610.62" stroke="#0000ff" stroke-width="1.5" stroke-linecap="butt"/>
<line x1="679.13" y1="602.82" x2="686.13" y2="602.82" stroke="#0000ff" stroke-width="1.5" stroke-linecap="butt"/>
<line x1="679.13" y1="610.62" x2="686.13" y2="610.62" stroke="#0000ff" stroke-width="1.5" stroke-linecap="butt"/>
<circle cx="682.63" cy="606.72" r="4.0" fill="none" stroke="#0000ff" stroke-width="1.85"/>
<text transform="translate(46.97,50.10) scale(0.7832,1)" font-family="Liberation Serif" font-size="23.0" fill="#000" stroke="#000" stroke-width="0.85" stroke-linejoin="round">1</text>
<text transform="translate(58.41,50.10) scale(1.1141,1)" font-family="Liberation Sans" font-size="23.0" fill="#000">0</text>
<text transform="translate(73.02,43.10) scale(1.0373,1)" font-family="Liberation Sans" font-size="14.26" fill="#000" stroke="#000" stroke-width="0.6" stroke-linejoin="round">3</text>
<text transform="translate(46.97,139.10) scale(0.7832,1)" font-family="Liberation Serif" font-size="23.0" fill="#000" stroke="#000" stroke-width="0.85" stroke-linejoin="round">1</text>
<text transform="translate(58.41,139.10) scale(1.1141,1)" font-family="Liberation Sans" font-size="23.0" fill="#000">0</text>
<text transform="translate(72.81,132.10) scale(1.0770,1)" font-family="Liberation Sans" font-size="14.26" fill="#000" stroke="#000" stroke-width="0.6" stroke-linejoin="round">2</text>
<text transform="translate(55.75,228.10) scale(0.7832,1)" font-family="Liberation Serif" font-size="23.0" fill="#000" stroke="#000" stroke-width="0.85" stroke-linejoin="round">1</text>
<text transform="translate(67.19,228.10) scale(1.1141,1)" font-family="Liberation Sans" font-size="23.0" fill="#000">0</text>
<text transform="translate(95.08,319.60) scale(1.1141,1)" font-family="Liberation Sans" font-size="23.0" fill="#000">0</text>
<rect x="111.24" y="317.10" width="2.50" height="2.50" fill="#000"/>
<text transform="translate(119.04,319.60) scale(0.7832,1)" font-family="Liberation Serif" font-size="23.0" fill="#000" stroke="#000" stroke-width="0.85" stroke-linejoin="round">1</text>
<text transform="translate(200.53,319.60) scale(0.7832,1)" font-family="Liberation Serif" font-size="23.0" fill="#000" stroke="#000" stroke-width="0.85" stroke-linejoin="round">1</text>
<text transform="translate(285.33,319.60) scale(0.7832,1)" font-family="Liberation Serif" font-size="23.0" fill="#000" stroke="#000" stroke-width="0.85" stroke-linejoin="round">1</text>
<text transform="translate(296.77,319.60) scale(1.1141,1)" font-family="Liberation Sans" font-size="23.0" fill="#000">0</text>
<text transform="translate(424.47,32.30) scale(0.7832,1)" font-family="Liberation Serif" font-size="23.0" fill="#000" stroke="#000" stroke-width="0.85" stroke-linejoin="round">1</text>
<text transform="translate(435.91,32.30) scale(1.1141,1)" font-family="Liberation Sans" font-size="23.0" fill="#000">0</text>
<text transform="translate(450.31,25.30) scale(1.0770,1)" font-family="Liberation Sans" font-size="14.26" fill="#000" stroke="#000" stroke-width="0.6" stroke-linejoin="round">2</text>
<text transform="translate(433.25,99.05) scale(0.7832,1)" font-family="Liberation Serif" font-size="23.0" fill="#000" stroke="#000" stroke-width="0.85" stroke-linejoin="round">1</text>
<text transform="translate(444.69,99.05) scale(1.1141,1)" font-family="Liberation Sans" font-size="23.0" fill="#000">0</text>
<text transform="translate(448.05,165.80) scale(0.7832,1)" font-family="Liberation Serif" font-size="23.0" fill="#000" stroke="#000" stroke-width="0.85" stroke-linejoin="round">1</text>
<text transform="translate(424.09,232.55) scale(1.1141,1)" font-family="Liberation Sans" font-size="23.0" fill="#000">0</text>
<rect x="440.25" y="230.05" width="2.50" height="2.50" fill="#000"/>
<text transform="translate(448.05,232.55) scale(0.7832,1)" font-family="Liberation Serif" font-size="23.0" fill="#000" stroke="#000" stroke-width="0.85" stroke-linejoin="round">1</text>
<text transform="translate(409.29,299.30) scale(1.1141,1)" font-family="Liberation Sans" font-size="23.0" fill="#000">0</text>
<rect x="425.45" y="296.80" width="2.50" height="2.50" fill="#000"/>
<text transform="translate(429.89,299.30) scale(1.1141,1)" font-family="Liberation Sans" font-size="23.0" fill="#000">0</text>
<text transform="translate(448.05,299.30) scale(0.7832,1)" font-family="Liberation Serif" font-size="23.0" fill="#000" stroke="#000" stroke-width="0.85" stroke-linejoin="round">1</text>
<text transform="translate(452.35,319.60) scale(0.7832,1)" font-family="Liberation Serif" font-size="23.0" fill="#000" stroke="#000" stroke-width="0.85" stroke-linejoin="round">1</text>
<text transform="translate(463.79,319.60) scale(1.1141,1)" font-family="Liberation Sans" font-size="23.0" fill="#000">0</text>
<text transform="translate(478.22,312.60) scale(0.7090,1)" font-family="Liberation Serif" font-size="14.26" fill="#000" stroke="#000" stroke-width="0.9" stroke-linejoin="round">1</text>
<text transform="translate(487.40,312.60) scale(0.7090,1)" font-family="Liberation Serif" font-size="14.26" fill="#000" stroke="#000" stroke-width="0.9" stroke-linejoin="round">1</text>
<text transform="translate(511.21,319.60) scale(0.7832,1)" font-family="Liberation Serif" font-size="23.0" fill="#000" stroke="#000" stroke-width="0.85" stroke-linejoin="round">1</text>
<text transform="translate(522.65,319.60) scale(1.1141,1)" font-family="Liberation Sans" font-size="23.0" fill="#000">0</text>
<text transform="translate(537.07,312.60) scale(0.7090,1)" font-family="Liberation Serif" font-size="14.26" fill="#000" stroke="#000" stroke-width="0.9" stroke-linejoin="round">1</text>
<text transform="translate(544.01,312.60) scale(1.0770,1)" font-family="Liberation Sans" font-size="14.26" fill="#000" stroke="#000" stroke-width="0.6" stroke-linejoin="round">2</text>
<text transform="translate(570.54,319.60) scale(0.7832,1)" font-family="Liberation Serif" font-size="23.0" fill="#000" stroke="#000" stroke-width="0.85" stroke-linejoin="round">1</text>
<text transform="translate(581.98,319.60) scale(1.1141,1)" font-family="Liberation Sans" font-size="23.0" fill="#000">0</text>
<text transform="translate(596.41,312.60) scale(0.7090,1)" font-family="Liberation Serif" font-size="14.26" fill="#000" stroke="#000" stroke-width="0.9" stroke-linejoin="round">1</text>
<text transform="translate(603.56,312.60) scale(1.0373,1)" font-family="Liberation Sans" font-size="14.26" fill="#000" stroke="#000" stroke-width="0.6" stroke-linejoin="round">3</text>
<text transform="translate(629.87,319.60) scale(0.7832,1)" font-family="Liberation Serif" font-size="23.0" fill="#000" stroke="#000" stroke-width="0.85" stroke-linejoin="round">1</text>
<text transform="translate(641.31,319.60) scale(1.1141,1)" font-family="Liberation Sans" font-size="23.0" fill="#000">0</text>
<text transform="translate(655.74,312.60) scale(0.7090,1)" font-family="Liberation Serif" font-size="14.26" fill="#000" stroke="#000" stroke-width="0.9" stroke-linejoin="round">1</text>
<text transform="translate(663.14,312.60) scale(0.9757,1)" font-family="Liberation Sans" font-size="14.26" fill="#000" stroke="#000" stroke-width="0.6" stroke-linejoin="round">4</text>
<text transform="translate(689.21,319.60) scale(0.7832,1)" font-family="Liberation Serif" font-size="23.0" fill="#000" stroke="#000" stroke-width="0.85" stroke-linejoin="round">1</text>
<text transform="translate(700.65,319.60) scale(1.1141,1)" font-family="Liberation Sans" font-size="23.0" fill="#000">0</text>
<text transform="translate(715.07,312.60) scale(0.7090,1)" font-family="Liberation Serif" font-size="14.26" fill="#000" stroke="#000" stroke-width="0.9" stroke-linejoin="round">1</text>
<text transform="translate(722.19,312.60) scale(1.0373,1)" font-family="Liberation Sans" font-size="14.26" fill="#000" stroke="#000" stroke-width="0.6" stroke-linejoin="round">5</text>
<text transform="translate(67.19,426.39) scale(1.1141,1)" font-family="Liberation Sans" font-size="23.0" fill="#000">0</text>
<line x1="50.70" y1="502.23" x2="64.10" y2="502.23" stroke="#000" stroke-width="1.45" stroke-linecap="butt"/>
<text transform="translate(70.55,509.83) scale(0.7832,1)" font-family="Liberation Serif" font-size="23.0" fill="#000" stroke="#000" stroke-width="0.85" stroke-linejoin="round">1</text>
<line x1="50.70" y1="585.66" x2="64.10" y2="585.66" stroke="#000" stroke-width="1.45" stroke-linecap="butt"/>
<text transform="translate(66.81,593.26) scale(1.1689,1)" font-family="Liberation Sans" font-size="23.0" fill="#000">2</text>
<line x1="50.70" y1="669.10" x2="64.10" y2="669.10" stroke="#000" stroke-width="1.45" stroke-linecap="butt"/>
<text transform="translate(67.18,676.70) scale(1.1259,1)" font-family="Liberation Sans" font-size="23.0" fill="#000">3</text>
<text transform="translate(87.39,697.00) scale(1.1141,1)" font-family="Liberation Sans" font-size="23.0" fill="#000">0</text>
<text transform="translate(131.51,697.00) scale(1.1689,1)" font-family="Liberation Sans" font-size="23.0" fill="#000">2</text>
<text transform="translate(176.80,697.00) scale(1.0590,1)" font-family="Liberation Sans" font-size="23.0" fill="#000">4</text>
<text transform="translate(220.52,697.00) scale(1.1563,1)" font-family="Liberation Sans" font-size="23.0" fill="#000">6</text>
<text transform="translate(265.24,697.00) scale(1.1318,1)" font-family="Liberation Sans" font-size="23.0" fill="#000">8</text>
<text transform="translate(304.57,697.00) scale(0.7832,1)" font-family="Liberation Serif" font-size="23.0" fill="#000" stroke="#000" stroke-width="0.85" stroke-linejoin="round">1</text>
<text transform="translate(316.01,697.00) scale(1.1141,1)" font-family="Liberation Sans" font-size="23.0" fill="#000">0</text>
<text transform="translate(349.07,697.00) scale(0.7832,1)" font-family="Liberation Serif" font-size="23.0" fill="#000" stroke="#000" stroke-width="0.85" stroke-linejoin="round">1</text>
<text transform="translate(360.13,697.00) scale(1.1689,1)" font-family="Liberation Sans" font-size="23.0" fill="#000">2</text>
<text transform="translate(448.05,409.70) scale(0.7832,1)" font-family="Liberation Serif" font-size="23.0" fill="#000" stroke="#000" stroke-width="0.85" stroke-linejoin="round">1</text>
<text transform="translate(424.09,463.10) scale(1.1141,1)" font-family="Liberation Sans" font-size="23.0" fill="#000">0</text>
<rect x="440.25" y="460.60" width="2.50" height="2.50" fill="#000"/>
<text transform="translate(444.54,463.10) scale(1.1318,1)" font-family="Liberation Sans" font-size="23.0" fill="#000">8</text>
<text transform="translate(424.09,516.50) scale(1.1141,1)" font-family="Liberation Sans" font-size="23.0" fill="#000">0</text>
<rect x="440.25" y="514.00" width="2.50" height="2.50" fill="#000"/>
<text transform="translate(444.32,516.50) scale(1.1563,1)" font-family="Liberation Sans" font-size="23.0" fill="#000">6</text>
<text transform="translate(424.09,569.90) scale(1.1141,1)" font-family="Liberation Sans" font-size="23.0" fill="#000">0</text>
<rect x="440.25" y="567.40" width="2.50" height="2.50" fill="#000"/>
<text transform="translate(445.10,569.90) scale(1.0590,1)" font-family="Liberation Sans" font-size="23.0" fill="#000">4</text>
<text transform="translate(424.09,623.30) scale(1.1141,1)" font-family="Liberation Sans" font-size="23.0" fill="#000">0</text>
<rect x="440.25" y="620.80" width="2.50" height="2.50" fill="#000"/>
<text transform="translate(444.31,623.30) scale(1.1689,1)" font-family="Liberation Sans" font-size="23.0" fill="#000">2</text>
<text transform="translate(444.69,676.70) scale(1.1141,1)" font-family="Liberation Sans" font-size="23.0" fill="#000">0</text>
<text transform="translate(454.16,697.00) scale(1.1141,1)" font-family="Liberation Sans" font-size="23.0" fill="#000">0</text>
<rect x="470.32" y="694.50" width="2.50" height="2.50" fill="#000"/>
<text transform="translate(478.12,697.00) scale(0.7832,1)" font-family="Liberation Serif" font-size="23.0" fill="#000" stroke="#000" stroke-width="0.85" stroke-linejoin="round">1</text>
<text transform="translate(574.35,697.00) scale(0.7832,1)" font-family="Liberation Serif" font-size="23.0" fill="#000" stroke="#000" stroke-width="0.85" stroke-linejoin="round">1</text>
<text transform="translate(673.87,697.00) scale(0.7832,1)" font-family="Liberation Serif" font-size="23.0" fill="#000" stroke="#000" stroke-width="0.85" stroke-linejoin="round">1</text>
<text transform="translate(685.31,697.00) scale(1.1141,1)" font-family="Liberation Sans" font-size="23.0" fill="#000">0</text>
<g transform="translate(115.20,244.20)">
<path d="M6.03,-18.60 Q-4.28,-7.00 6.03,4.60" fill="none" stroke="#000" stroke-width="1.75" stroke-linecap="round"/>
<text transform="translate(8.43,0.00) scale(1.1937,1)" font-family="Liberation Serif" font-size="25.5" fill="#000" stroke="#000" stroke-width="0.12" stroke-linejoin="round">a</text>
<path d="M25.08,-18.60 Q35.38,-7.00 25.08,4.60" fill="none" stroke="#000" stroke-width="1.75" stroke-linecap="round"/>
</g>
<g transform="translate(492.70,244.20)">
<path d="M6.03,-18.60 Q-4.28,-7.00 6.03,4.60" fill="none" stroke="#000" stroke-width="1.75" stroke-linecap="round"/>
<text transform="translate(9.50,0.00) scale(1.0684,1)" font-family="Liberation Serif" font-size="25.5" fill="#000" stroke="#000" stroke-width="0.12" stroke-linejoin="round">b</text>
<path d="M25.58,-18.60 Q35.88,-7.00 25.58,4.60" fill="none" stroke="#000" stroke-width="1.75" stroke-linecap="round"/>
</g>
<g transform="translate(115.20,621.60)">
<path d="M6.03,-18.60 Q-4.28,-7.00 6.03,4.60" fill="none" stroke="#000" stroke-width="1.75" stroke-linecap="round"/>
<text transform="translate(8.42,0.00) scale(1.1323,1)" font-family="Liberation Serif" font-size="25.5" fill="#000" stroke="#000" stroke-width="0.12" stroke-linejoin="round">c</text>
<path d="M23.88,-18.60 Q34.17,-7.00 23.88,4.60" fill="none" stroke="#000" stroke-width="1.75" stroke-linecap="round"/>
</g>
<g transform="translate(492.70,621.60)">
<path d="M6.03,-18.60 Q-4.28,-7.00 6.03,4.60" fill="none" stroke="#000" stroke-width="1.75" stroke-linecap="round"/>
<text transform="translate(8.53,0.00) scale(1.0860,1)" font-family="Liberation Serif" font-size="25.5" fill="#000" stroke="#000" stroke-width="0.12" stroke-linejoin="round">d</text>
<path d="M25.58,-18.60 Q35.88,-7.00 25.58,4.60" fill="none" stroke="#000" stroke-width="1.75" stroke-linecap="round"/>
</g>
<g transform="translate(159.1,350.5)">
<text transform="translate(-0.66,0.00) scale(1.2986,1)" font-family="Liberation Serif" font-size="25.5" fill="#000" stroke="#000" stroke-width="0.12138219222115071" stroke-linejoin="round">r</text>
<text transform="translate(11.66,6.10) scale(1.0380,1)" font-family="Liberation Serif" font-size="15.5" fill="#000" stroke="#000" stroke-width="0.4" stroke-linejoin="round">p</text>
<path d="M39.30,-18.73 H33.88 V3.23 H39.30" fill="none" stroke="#000" stroke-width="1.55"/>
<text transform="translate(41.90,0.00) scale(1.0703,1)" font-family="Liberation Serif" font-size="25.5" fill="#000" stroke="#000" stroke-width="0.34973856209150306" stroke-linejoin="round">h</text>
<line x1="58.90" y1="-11.60" x2="66.30" y2="-11.60" stroke="#000" stroke-width="1.6" stroke-linecap="butt"/>
<text transform="translate(69.11,-7.40) scale(0.8434,1)" font-family="Liberation Serif" font-size="14.8" fill="#000" stroke="#000" stroke-width="0.8" stroke-linejoin="round">1</text>
<text transform="translate(82.90,0.00) scale(0.7066,1)" font-family="Liberation Serif" font-size="25.5" fill="#000" stroke="#000" stroke-width="0.8014343755520228" stroke-linejoin="round">M</text>
<text transform="translate(99.51,0.00) scale(1.2882,1)" font-family="Liberation Serif" font-size="25.5" fill="#000" stroke="#000" stroke-width="0.13179756818928806" stroke-linejoin="round">p</text>
<text transform="translate(115.08,0.00) scale(1.1739,1)" font-family="Liberation Serif" font-size="25.5" fill="#000" stroke="#000" stroke-width="0.24612647708089758" stroke-linejoin="round">c</text>
<path d="M130.70,-18.73 H136.22 V3.23 H130.70" fill="none" stroke="#000" stroke-width="1.55"/>
</g>
<g transform="translate(538.0,350.5)">
<text transform="translate(-0.52,0.00) scale(0.7443,1)" font-family="Liberation Serif" font-size="25.5" fill="#000" stroke="#000" stroke-width="0.7524442089147971" stroke-linejoin="round">M</text>
<path d="M36.30,-18.73 H30.88 V3.23 H36.30" fill="none" stroke="#000" stroke-width="1.55"/>
<text transform="translate(38.90,0.00) scale(1.0703,1)" font-family="Liberation Serif" font-size="25.5" fill="#000" stroke="#000" stroke-width="0.34973856209150306" stroke-linejoin="round">h</text>
<line x1="55.90" y1="-11.60" x2="63.30" y2="-11.60" stroke="#000" stroke-width="1.6" stroke-linecap="butt"/>
<text transform="translate(66.11,-7.40) scale(0.8434,1)" font-family="Liberation Serif" font-size="14.8" fill="#000" stroke="#000" stroke-width="0.8" stroke-linejoin="round">1</text>
<text transform="translate(79.90,0.00) scale(0.7066,1)" font-family="Liberation Serif" font-size="25.5" fill="#000" stroke="#000" stroke-width="0.8014343755520228" stroke-linejoin="round">M</text>
<text transform="translate(96.51,0.00) scale(1.2882,1)" font-family="Liberation Serif" font-size="25.5" fill="#000" stroke="#000" stroke-width="0.13179756818928806" stroke-linejoin="round">p</text>
<text transform="translate(112.08,0.00) scale(1.1739,1)" font-family="Liberation Serif" font-size="25.5" fill="#000" stroke="#000" stroke-width="0.24612647708089758" stroke-linejoin="round">c</text>
<path d="M127.70,-18.73 H133.22 V3.23 H127.70" fill="none" stroke="#000" stroke-width="1.55"/>
</g>
<g transform="translate(163.3,727.9)">
<text transform="translate(-0.71,0.00) scale(1.3886,1)" font-family="Liberation Serif" font-size="25.5" fill="#000" stroke="#000" stroke-width="0.03137897782063642" stroke-linejoin="round">r</text>
<path d="M30.40,-18.73 H24.97 V3.23 H30.40" fill="none" stroke="#000" stroke-width="1.55"/>
<text transform="translate(33.00,0.00) scale(1.0703,1)" font-family="Liberation Serif" font-size="25.5" fill="#000" stroke="#000" stroke-width="0.3497385620915037" stroke-linejoin="round">h</text>
<line x1="50.00" y1="-11.60" x2="57.40" y2="-11.60" stroke="#000" stroke-width="1.6" stroke-linecap="butt"/>
<text transform="translate(60.21,-7.40) scale(0.8434,1)" font-family="Liberation Serif" font-size="14.8" fill="#000" stroke="#000" stroke-width="0.8" stroke-linejoin="round">1</text>
<text transform="translate(74.00,0.00) scale(0.7066,1)" font-family="Liberation Serif" font-size="25.5" fill="#000" stroke="#000" stroke-width="0.8014343755520228" stroke-linejoin="round">M</text>
<text transform="translate(90.61,0.00) scale(1.2882,1)" font-family="Liberation Serif" font-size="25.5" fill="#000" stroke="#000" stroke-width="0.13179756818928806" stroke-linejoin="round">p</text>
<text transform="translate(106.18,0.00) scale(1.1739,1)" font-family="Liberation Serif" font-size="25.5" fill="#000" stroke="#000" stroke-width="0.24612647708089758" stroke-linejoin="round">c</text>
<path d="M121.80,-18.73 H127.32 V3.23 H121.80" fill="none" stroke="#000" stroke-width="1.55"/>
</g>
<g transform="translate(590.9,724.5)">
<text transform="translate(0.76,0.00) scale(0.8116,1)" font-family="Liberation Serif" font-size="24.0" fill="#000" stroke="#000" stroke-width="0.6648574969021066" stroke-linejoin="round">N</text>
<text transform="translate(16.95,0.00) scale(0.9644,1)" font-family="Liberation Serif" font-size="24.0" font-style="italic" fill="#000" stroke="#000" stroke-width="0.46633123689727457" stroke-linejoin="round">ξ</text>
<line x1="0.00" y1="-19.00" x2="28.90" y2="-19.00" stroke="#000" stroke-width="1.4" stroke-linecap="butt"/>
</g>
<g transform="translate(23.0,250.0) rotate(-90)">
<text transform="translate(0.00,0.00) scale(0.7625,1)" font-family="Liberation Serif" font-size="25.5" fill="#000" stroke="#000" stroke-width="0.728714596949891" stroke-linejoin="round">w</text>
<text transform="translate(14.27,6.00) scale(1.4129,1)" font-family="Liberation Serif" font-size="15.5" fill="#000" stroke="#000" stroke-width="0.4" stroke-linejoin="round">p</text>
<path d="M33.73,-18.60 Q23.42,-7.00 33.73,4.60" fill="none" stroke="#000" stroke-width="1.75" stroke-linecap="round"/>
<text transform="translate(36.21,0.00) scale(1.3500,1)" font-family="Liberation Serif" font-size="25.5" fill="#000" stroke="#000" stroke-width="0.06995178399228547" stroke-linejoin="round">r</text>
<text transform="translate(48.47,6.00) scale(1.4129,1)" font-family="Liberation Serif" font-size="15.5" fill="#000" stroke="#000" stroke-width="0.4" stroke-linejoin="round">p</text>
<path d="M59.27,-18.60 Q69.38,-7.00 59.27,4.60" fill="none" stroke="#000" stroke-width="1.75" stroke-linecap="round"/>
<path d="M86.50,-18.73 H81.08 V3.23 H86.50" fill="none" stroke="#000" stroke-width="1.55"/>
<text transform="translate(89.10,0.00) scale(1.0703,1)" font-family="Liberation Serif" font-size="25.5" fill="#000" stroke="#000" stroke-width="0.3497385620915026" stroke-linejoin="round">h</text>
<line x1="106.10" y1="-11.60" x2="113.50" y2="-11.60" stroke="#000" stroke-width="1.6" stroke-linecap="butt"/>
<text transform="translate(116.31,-7.40) scale(0.8434,1)" font-family="Liberation Serif" font-size="14.8" fill="#000" stroke="#000" stroke-width="0.8" stroke-linejoin="round">1</text>
<text transform="translate(130.10,0.00) scale(0.7066,1)" font-family="Liberation Serif" font-size="25.5" fill="#000" stroke="#000" stroke-width="0.8014343755520228" stroke-linejoin="round">M</text>
<text transform="translate(146.71,0.00) scale(1.2882,1)" font-family="Liberation Serif" font-size="25.5" fill="#000" stroke="#000" stroke-width="0.13179756818928806" stroke-linejoin="round">p</text>
<text transform="translate(162.28,0.00) scale(1.1739,1)" font-family="Liberation Serif" font-size="25.5" fill="#000" stroke="#000" stroke-width="0.24612647708089758" stroke-linejoin="round">c</text>
<path d="M177.90,-18.73 H183.42 V3.23 H177.90" fill="none" stroke="#000" stroke-width="1.55"/>
</g>
<g transform="translate(389.5,178.9) rotate(-90)">
<polyline points="5.40,-18.20 0.20,-6.70 5.40,4.80" fill="none" stroke="#000" stroke-width="1.45" stroke-linejoin="round"/>
<text transform="translate(9.14,0.00) scale(0.7931,1)" font-family="Liberation Serif" font-size="25.5" fill="#000" stroke="#000" stroke-width="0.6890210656753406" stroke-linejoin="round">N</text>
<polyline points="27.50,-18.20 32.80,-6.70 27.50,4.80" fill="none" stroke="#000" stroke-width="1.45" stroke-linejoin="round"/>
<text transform="translate(35.51,7.00) scale(0.6820,1)" font-family="Liberation Serif" font-size="15.5" fill="#000" stroke="#000" stroke-width="0.7" stroke-linejoin="round">M</text>
</g>
<g transform="translate(29.3,584.9) rotate(-90)">
<text transform="translate(-0.39,0.00) scale(0.7680,1)" font-family="Liberation Serif" font-size="25.5" fill="#000" stroke="#000" stroke-width="0.7216339869281045" stroke-linejoin="round">l</text>
<text transform="translate(5.39,0.00) scale(0.9504,1)" font-family="Liberation Serif" font-size="25.5" fill="#000" stroke="#000" stroke-width="0.48447520184544407" stroke-linejoin="round">o</text>
<text transform="translate(19.28,0.00) scale(1.1230,1)" font-family="Liberation Serif" font-size="25.5" fill="#000" stroke="#000" stroke-width="0.2970053475935828" stroke-linejoin="round">g</text>
<text transform="translate(46.63,0.00) scale(0.9524,1)" font-family="Liberation Serif" font-size="25.5" fill="#000" stroke="#000" stroke-width="0.4819047619047612" stroke-linejoin="round">P</text>
<text transform="translate(61.78,6.80) scale(0.9761,1)" font-family="Liberation Sans" font-size="14.3" fill="#000" stroke="#000" stroke-width="0.8" stroke-linejoin="round">0</text>
<path d="M77.42,-18.60 Q67.52,-7.00 77.42,4.60" fill="none" stroke="#000" stroke-width="1.75" stroke-linecap="round"/>
<text transform="translate(80.66,0.00) scale(1.2600,1)" font-family="Liberation Serif" font-size="25.5" fill="#000" stroke="#000" stroke-width="0.15995499839279997" stroke-linejoin="round">r</text>
<path d="M94.88,-18.60 Q104.38,-7.00 94.88,4.60" fill="none" stroke="#000" stroke-width="1.75" stroke-linecap="round"/>
</g>
<g transform="translate(404.4,615.1) rotate(-90)">
<text transform="translate(1.98,0.00) scale(0.8747,1)" font-family="Liberation Serif" font-size="25.5" font-style="italic" fill="#000" stroke="#000" stroke-width="0.5829258154874852" stroke-linejoin="round">χ</text>
<line x1="15.10" y1="-9.35" x2="28.10" y2="-9.35" stroke="#000" stroke-width="1.45" stroke-linecap="butt"/>
<line x1="15.10" y1="-5.50" x2="28.10" y2="-5.50" stroke="#000" stroke-width="1.45" stroke-linecap="butt"/>
<line x1="45.30" y1="-7.70" x2="57.90" y2="-7.70" stroke="#000" stroke-width="1.55" stroke-linecap="butt"/>
<text transform="translate(61.83,0.00) scale(0.7190,1)" font-family="Liberation Serif" font-size="25.5" fill="#000" stroke="#000" stroke-width="0.7853594771241849" stroke-linejoin="round">l</text>
<text transform="translate(69.69,0.00) scale(1.0684,1)" font-family="Liberation Serif" font-size="25.5" fill="#000" stroke="#000" stroke-width="0.3516375198728133" stroke-linejoin="round">n</text>
<path d="M91.92,-18.60 Q82.23,-7.00 91.92,4.60" fill="none" stroke="#000" stroke-width="1.75" stroke-linecap="round"/>
<text transform="translate(95.84,0.00) scale(0.9444,1)" font-family="Liberation Serif" font-size="25.5" fill="#000" stroke="#000" stroke-width="0.492308923569428" stroke-linejoin="round">P</text>
<text transform="translate(111.25,6.90) scale(0.8134,1)" font-family="Liberation Sans" font-size="14.6" fill="#000" stroke="#000" stroke-width="0.8" stroke-linejoin="round">0</text>
<path d="M121.38,-18.60 Q131.68,-7.00 121.38,4.60" fill="none" stroke="#000" stroke-width="1.75" stroke-linecap="round"/>
<line x1="130.60" y1="4.00" x2="143.20" y2="-19.40" stroke="#000" stroke-width="1.5" stroke-linecap="butt"/>
<text transform="translate(145.72,0.00) scale(0.7311,1)" font-family="Liberation Serif" font-size="24.0" fill="#000" stroke="#000" stroke-width="0.7695662949194539" stroke-linejoin="round">N</text>
<line x1="145.60" y1="-19.40" x2="161.00" y2="-19.40" stroke="#000" stroke-width="1.4" stroke-linecap="butt"/>
</g>
</svg>
</body></html>
